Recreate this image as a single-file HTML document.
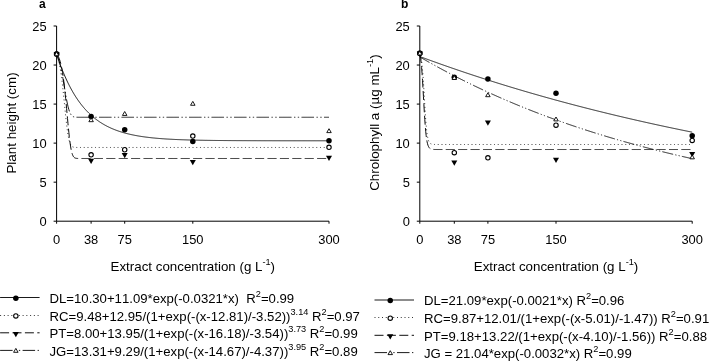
<!DOCTYPE html>
<html><head><meta charset="utf-8"><title>fig</title>
<style>
html,body{margin:0;padding:0;background:#fff;}
svg{display:block;will-change:transform;}
text{font-family:"Liberation Sans",sans-serif;fill:#000;font-kerning:none;}
</style></head><body>
<svg width="709" height="361" viewBox="0 0 709 361">
<rect width="709" height="361" fill="#fff"/>
<path d="M56.60 54.19 L57.05 55.57 L57.51 56.92 L57.96 58.26 L58.42 59.57 L58.87 60.86 L59.32 62.14 L59.78 63.39 L60.23 64.62 L60.69 65.83 L61.14 67.03 L61.59 68.20 L62.05 69.36 L62.50 70.49 L62.96 71.61 L63.41 72.71 L63.86 73.80 L64.32 74.86 L64.77 75.91 L65.23 76.95 L65.68 77.96 L66.13 78.96 L66.59 79.95 L67.04 80.92 L67.50 81.87 L67.95 82.81 L68.40 83.73 L68.86 84.64 L69.31 85.53 L69.77 86.41 L70.22 87.28 L70.67 88.13 L71.13 88.97 L71.58 89.79 L72.04 90.60 L72.49 91.40 L72.94 92.19 L73.40 92.96 L73.85 93.72 L74.31 94.47 L74.76 95.21 L75.21 95.94 L75.67 96.65 L76.12 97.35 L76.58 98.04 L77.03 98.72 L77.48 99.39 L77.94 100.05 L78.39 100.70 L78.85 101.34 L79.30 101.97 L79.75 102.58 L80.21 103.19 L80.66 103.79 L81.12 104.38 L81.57 104.96 L82.02 105.53 L82.48 106.09 L82.93 106.64 L83.39 107.19 L83.84 107.72 L84.29 108.25 L84.75 108.77 L85.20 109.28 L85.66 109.78 L86.11 110.27 L86.56 110.76 L87.02 111.23 L87.47 111.71 L87.93 112.17 L88.38 112.62 L88.83 113.07 L89.29 113.51 L89.74 113.95 L90.20 114.37 L90.65 114.79 L91.10 115.21 L91.56 115.62 L92.01 116.02 L92.47 116.41 L92.92 116.80 L93.37 117.18 L93.83 117.56 L94.28 117.93 L94.74 118.29 L95.19 118.65 L95.64 119.00 L96.10 119.35 L96.55 119.69 L97.01 120.02 L97.46 120.35 L97.91 120.68 L98.37 121.00 L98.82 121.31 L99.28 121.62 L99.73 121.93 L100.18 122.23 L100.64 122.52 L101.09 122.81 L101.55 123.10 L102.00 123.38 L102.45 123.66 L102.91 123.93 L103.36 124.20 L103.82 124.46 L104.27 124.72 L104.72 124.98 L105.18 125.23 L105.63 125.48 L106.09 125.72 L106.54 125.96 L106.99 126.20 L107.45 126.43 L107.90 126.66 L108.36 126.88 L108.81 127.10 L109.26 127.32 L109.72 127.54 L110.17 127.75 L110.63 127.95 L111.08 128.16 L111.53 128.36 L111.99 128.56 L112.44 128.75 L112.90 128.94 L113.35 129.13 L113.80 129.32 L114.26 129.50 L114.71 129.68 L115.17 129.86 L115.62 130.03 L116.07 130.20 L116.53 130.37 L116.98 130.54 L117.44 130.70 L117.89 130.86 L118.34 131.02 L118.80 131.17 L119.25 131.32 L119.71 131.48 L120.16 131.62 L120.61 131.77 L121.07 131.91 L121.52 132.05 L121.98 132.19 L122.43 132.33 L122.88 132.46 L123.34 132.60 L123.79 132.73 L124.25 132.85 L124.70 132.98 L125.15 133.11 L125.61 133.23 L126.06 133.35 L126.52 133.47 L126.97 133.58 L127.42 133.70 L127.88 133.81 L128.33 133.92 L128.79 134.03 L129.24 134.14 L129.69 134.24 L130.15 134.35 L130.60 134.45 L131.06 134.55 L131.51 134.65 L131.96 134.75 L132.42 134.84 L132.87 134.94 L133.33 135.03 L133.78 135.12 L134.23 135.21 L134.69 135.30 L135.14 135.39 L135.60 135.47 L136.05 135.56 L136.50 135.64 L136.96 135.72 L137.41 135.80 L137.87 135.88 L138.32 135.96 L138.77 136.04 L139.23 136.11 L139.68 136.19 L140.14 136.26 L140.59 136.33 L141.04 136.40 L141.50 136.47 L141.95 136.54 L142.41 136.61 L142.86 136.67 L143.31 136.74 L143.77 136.80 L144.22 136.87 L144.68 136.93 L145.13 136.99 L145.58 137.05 L146.04 137.11 L146.49 137.17 L146.95 137.23 L147.40 137.28 L147.85 137.34 L148.31 137.39 L148.76 137.45 L149.22 137.50 L149.67 137.55 L150.12 137.60 L150.58 137.65 L151.03 137.70 L151.49 137.75 L151.94 137.80 L152.39 137.85 L152.85 137.90 L153.30 137.94 L153.76 137.99 L154.21 138.03 L154.66 138.07 L155.12 138.12 L155.57 138.16 L156.03 138.20 L156.48 138.24 L156.93 138.28 L157.39 138.32 L157.84 138.36 L158.30 138.40 L158.75 138.44 L159.20 138.48 L159.66 138.51 L160.11 138.55 L160.57 138.58 L161.02 138.62 L161.47 138.65 L161.93 138.69 L162.38 138.72 L162.84 138.75 L163.29 138.78 L163.74 138.82 L164.20 138.85 L164.65 138.88 L165.11 138.91 L165.56 138.94 L166.01 138.97 L166.47 139.00 L166.92 139.03 L167.38 139.05 L167.83 139.08 L168.28 139.11 L168.74 139.13 L169.19 139.16 L169.65 139.19 L170.10 139.21 L170.55 139.24 L171.01 139.26 L171.46 139.28 L171.92 139.31 L172.37 139.33 L172.82 139.36 L173.28 139.38 L173.73 139.40 L174.19 139.42 L174.64 139.44 L175.09 139.46 L175.55 139.49 L176.00 139.51 L176.46 139.53 L176.91 139.55 L177.36 139.57 L177.82 139.59 L178.27 139.60 L178.73 139.62 L179.18 139.64 L179.63 139.66 L180.09 139.68 L180.54 139.69 L181.00 139.71 L181.45 139.73 L181.90 139.75 L182.36 139.76 L182.81 139.78 L183.27 139.79 L183.72 139.81 L184.17 139.83 L184.63 139.84 L185.08 139.86 L185.54 139.87 L185.99 139.88 L186.44 139.90 L186.90 139.91 L187.35 139.93 L187.81 139.94 L188.26 139.95 L188.71 139.97 L189.17 139.98 L189.62 139.99 L190.08 140.00 L190.53 140.02 L190.98 140.03 L191.44 140.04 L191.89 140.05 L192.35 140.06 L192.80 140.08 L193.25 140.09 L193.71 140.10 L194.16 140.11 L194.62 140.12 L195.07 140.13 L195.52 140.14 L195.98 140.15 L196.43 140.16 L196.89 140.17 L197.34 140.18 L197.79 140.19 L198.25 140.20 L198.70 140.21 L199.16 140.22 L199.61 140.23 L200.06 140.23 L200.52 140.24 L200.97 140.25 L201.43 140.26 L201.88 140.27 L202.33 140.28 L202.79 140.28 L203.24 140.29 L203.70 140.30 L204.15 140.31 L204.60 140.32 L205.06 140.32 L205.51 140.33 L205.97 140.34 L206.42 140.34 L206.87 140.35 L207.33 140.36 L207.78 140.36 L208.24 140.37 L208.69 140.38 L209.14 140.38 L209.60 140.39 L210.05 140.40 L210.51 140.40 L210.96 140.41 L211.41 140.41 L211.87 140.42 L212.32 140.43 L212.78 140.43 L213.23 140.44 L213.68 140.44 L214.14 140.45 L214.59 140.45 L215.05 140.46 L215.50 140.46 L215.95 140.47 L216.41 140.47 L216.86 140.48 L217.32 140.48 L217.77 140.49 L218.22 140.49 L218.68 140.50 L219.13 140.50 L219.59 140.51 L220.04 140.51 L220.49 140.51 L220.95 140.52 L221.40 140.52 L221.86 140.53 L222.31 140.53 L222.76 140.53 L223.22 140.54 L223.67 140.54 L224.13 140.55 L224.58 140.55 L225.03 140.55 L225.49 140.56 L225.94 140.56 L226.40 140.56 L226.85 140.57 L227.30 140.57 L227.76 140.57 L228.21 140.58 L228.67 140.58 L229.12 140.58 L229.57 140.59 L230.03 140.59 L230.48 140.59 L230.94 140.60 L231.39 140.60 L231.84 140.60 L232.30 140.60 L232.75 140.61 L233.21 140.61 L233.66 140.61 L234.11 140.61 L234.57 140.62 L235.02 140.62 L235.48 140.62 L235.93 140.62 L236.38 140.63 L236.84 140.63 L237.29 140.63 L237.75 140.63 L238.20 140.64 L238.65 140.64 L239.11 140.64 L239.56 140.64 L240.02 140.65 L240.47 140.65 L240.92 140.65 L241.38 140.65 L241.83 140.65 L242.29 140.66 L242.74 140.66 L243.19 140.66 L243.65 140.66 L244.10 140.66 L244.56 140.66 L245.01 140.67 L245.46 140.67 L245.92 140.67 L246.37 140.67 L246.83 140.67 L247.28 140.68 L247.73 140.68 L248.19 140.68 L248.64 140.68 L249.10 140.68 L249.55 140.68 L250.00 140.68 L250.46 140.69 L250.91 140.69 L251.37 140.69 L251.82 140.69 L252.27 140.69 L252.73 140.69 L253.18 140.69 L253.64 140.70 L254.09 140.70 L254.54 140.70 L255.00 140.70 L255.45 140.70 L255.91 140.70 L256.36 140.70 L256.81 140.70 L257.27 140.71 L257.72 140.71 L258.18 140.71 L258.63 140.71 L259.08 140.71 L259.54 140.71 L259.99 140.71 L260.45 140.71 L260.90 140.71 L261.35 140.72 L261.81 140.72 L262.26 140.72 L262.72 140.72 L263.17 140.72 L263.62 140.72 L264.08 140.72 L264.53 140.72 L264.99 140.72 L265.44 140.72 L265.89 140.72 L266.35 140.73 L266.80 140.73 L267.26 140.73 L267.71 140.73 L268.16 140.73 L268.62 140.73 L269.07 140.73 L269.53 140.73 L269.98 140.73 L270.43 140.73 L270.89 140.73 L271.34 140.73 L271.80 140.73 L272.25 140.74 L272.70 140.74 L273.16 140.74 L273.61 140.74 L274.07 140.74 L274.52 140.74 L274.97 140.74 L275.43 140.74 L275.88 140.74 L276.34 140.74 L276.79 140.74 L277.24 140.74 L277.70 140.74 L278.15 140.74 L278.61 140.74 L279.06 140.74 L279.51 140.74 L279.97 140.75 L280.42 140.75 L280.88 140.75 L281.33 140.75 L281.78 140.75 L282.24 140.75 L282.69 140.75 L283.15 140.75 L283.60 140.75 L284.05 140.75 L284.51 140.75 L284.96 140.75 L285.42 140.75 L285.87 140.75 L286.32 140.75 L286.78 140.75 L287.23 140.75 L287.69 140.75 L288.14 140.75 L288.59 140.75 L289.05 140.75 L289.50 140.75 L289.96 140.75 L290.41 140.76 L290.86 140.76 L291.32 140.76 L291.77 140.76 L292.23 140.76 L292.68 140.76 L293.13 140.76 L293.59 140.76 L294.04 140.76 L294.50 140.76 L294.95 140.76 L295.40 140.76 L295.86 140.76 L296.31 140.76 L296.77 140.76 L297.22 140.76 L297.67 140.76 L298.13 140.76 L298.58 140.76 L299.04 140.76 L299.49 140.76 L299.94 140.76 L300.40 140.76 L300.85 140.76 L301.31 140.76 L301.76 140.76 L302.21 140.76 L302.67 140.76 L303.12 140.76 L303.58 140.76 L304.03 140.76 L304.48 140.76 L304.94 140.76 L305.39 140.76 L305.85 140.76 L306.30 140.76 L306.75 140.77 L307.21 140.77 L307.66 140.77 L308.12 140.77 L308.57 140.77 L309.02 140.77 L309.48 140.77 L309.93 140.77 L310.39 140.77 L310.84 140.77 L311.29 140.77 L311.75 140.77 L312.20 140.77 L312.66 140.77 L313.11 140.77 L313.56 140.77 L314.02 140.77 L314.47 140.77 L314.93 140.77 L315.38 140.77 L315.83 140.77 L316.29 140.77 L316.74 140.77 L317.20 140.77 L317.65 140.77 L318.10 140.77 L318.56 140.77 L319.01 140.77 L319.47 140.77 L319.92 140.77 L320.37 140.77 L320.83 140.77 L321.28 140.77 L321.74 140.77 L322.19 140.77 L322.64 140.77 L323.10 140.77 L323.55 140.77 L324.01 140.77 L324.46 140.77 L324.91 140.77 L325.37 140.77 L325.82 140.77 L326.28 140.77 L326.73 140.77 L327.18 140.77 L327.64 140.77 L328.09 140.77 L328.55 140.77 L329.00 140.77" fill="none" stroke="#000" stroke-width="0.9"/>
<path d="M56.60 54.27 L57.05 55.41 L57.51 56.69 L57.96 58.15 L58.42 59.78 L58.87 61.62 L59.32 63.67 L59.78 65.96 L60.23 68.50 L60.69 71.30 L61.14 74.36 L61.59 77.69 L62.05 81.29 L62.50 85.14 L62.96 89.22 L63.41 93.50 L63.86 97.93 L64.32 102.46 L64.77 107.03 L65.23 111.57 L65.68 116.00 L66.13 120.26 L66.59 124.27 L67.04 127.99 L67.50 131.36 L67.95 134.35 L68.40 136.95 L68.86 139.17 L69.31 141.03 L69.77 142.55 L70.22 143.76 L70.67 144.72 L71.13 145.46 L71.58 146.02 L72.04 146.43 L72.49 146.74 L72.94 146.96 L73.40 147.12 L73.85 147.23 L74.31 147.31 L74.76 147.37 L75.21 147.40 L75.67 147.43 L76.12 147.45 L76.58 147.46 L77.03 147.47 L77.48 147.47 L77.94 147.47 L78.39 147.48 L78.85 147.48 L79.30 147.48 L79.75 147.48 L80.21 147.48 L80.66 147.48 L81.12 147.48 L81.57 147.48 L82.02 147.48 L82.48 147.48 L82.93 147.48 L83.39 147.48 L83.84 147.48 L84.29 147.48 L84.75 147.48 L85.20 147.48 L85.66 147.48 L86.11 147.48 L86.56 147.48 L87.02 147.48 L87.47 147.48 L87.93 147.48 L88.38 147.48 L88.83 147.48 L89.29 147.48 L89.74 147.48 L90.20 147.48 L90.65 147.48 L91.10 147.48 L91.56 147.48 L92.01 147.48 L92.47 147.48 L92.92 147.48 L93.37 147.48 L93.83 147.48 L94.28 147.48 L94.74 147.48 L95.19 147.48 L95.64 147.48 L96.10 147.48 L96.55 147.48 L97.01 147.48 L97.46 147.48 L97.91 147.48 L98.37 147.48 L98.82 147.48 L99.28 147.48 L99.73 147.48 L100.18 147.48 L100.64 147.48 L101.09 147.48 L101.55 147.48 L102.00 147.48 L102.45 147.48 L102.91 147.48 L103.36 147.48 L103.82 147.48 L104.27 147.48 L104.72 147.48 L105.18 147.48 L105.63 147.48 L106.09 147.48 L106.54 147.48 L106.99 147.48 L107.45 147.48 L107.90 147.48 L108.36 147.48 L108.81 147.48 L109.26 147.48 L109.72 147.48 L110.17 147.48 L110.63 147.48 L111.08 147.48 L111.53 147.48 L111.99 147.48 L112.44 147.48 L112.90 147.48 L113.35 147.48 L113.80 147.48 L114.26 147.48 L114.71 147.48 L115.17 147.48 L115.62 147.48 L116.07 147.48 L116.53 147.48 L116.98 147.48 L117.44 147.48 L117.89 147.48 L118.34 147.48 L118.80 147.48 L119.25 147.48 L119.71 147.48 L120.16 147.48 L120.61 147.48 L121.07 147.48 L121.52 147.48 L121.98 147.48 L122.43 147.48 L122.88 147.48 L123.34 147.48 L123.79 147.48 L124.25 147.48 L124.70 147.48 L125.15 147.48 L125.61 147.48 L126.06 147.48 L126.52 147.48 L126.97 147.48 L127.42 147.48 L127.88 147.48 L128.33 147.48 L128.79 147.48 L129.24 147.48 L129.69 147.48 L130.15 147.48 L130.60 147.48 L131.06 147.48 L131.51 147.48 L131.96 147.48 L132.42 147.48 L132.87 147.48 L133.33 147.48 L133.78 147.48 L134.23 147.48 L134.69 147.48 L135.14 147.48 L135.60 147.48 L136.05 147.48 L136.50 147.48 L136.96 147.48 L137.41 147.48 L137.87 147.48 L138.32 147.48 L138.77 147.48 L139.23 147.48 L139.68 147.48 L140.14 147.48 L140.59 147.48 L141.04 147.48 L141.50 147.48 L141.95 147.48 L142.41 147.48 L142.86 147.48 L143.31 147.48 L143.77 147.48 L144.22 147.48 L144.68 147.48 L145.13 147.48 L145.58 147.48 L146.04 147.48 L146.49 147.48 L146.95 147.48 L147.40 147.48 L147.85 147.48 L148.31 147.48 L148.76 147.48 L149.22 147.48 L149.67 147.48 L150.12 147.48 L150.58 147.48 L151.03 147.48 L151.49 147.48 L151.94 147.48 L152.39 147.48 L152.85 147.48 L153.30 147.48 L153.76 147.48 L154.21 147.48 L154.66 147.48 L155.12 147.48 L155.57 147.48 L156.03 147.48 L156.48 147.48 L156.93 147.48 L157.39 147.48 L157.84 147.48 L158.30 147.48 L158.75 147.48 L159.20 147.48 L159.66 147.48 L160.11 147.48 L160.57 147.48 L161.02 147.48 L161.47 147.48 L161.93 147.48 L162.38 147.48 L162.84 147.48 L163.29 147.48 L163.74 147.48 L164.20 147.48 L164.65 147.48 L165.11 147.48 L165.56 147.48 L166.01 147.48 L166.47 147.48 L166.92 147.48 L167.38 147.48 L167.83 147.48 L168.28 147.48 L168.74 147.48 L169.19 147.48 L169.65 147.48 L170.10 147.48 L170.55 147.48 L171.01 147.48 L171.46 147.48 L171.92 147.48 L172.37 147.48 L172.82 147.48 L173.28 147.48 L173.73 147.48 L174.19 147.48 L174.64 147.48 L175.09 147.48 L175.55 147.48 L176.00 147.48 L176.46 147.48 L176.91 147.48 L177.36 147.48 L177.82 147.48 L178.27 147.48 L178.73 147.48 L179.18 147.48 L179.63 147.48 L180.09 147.48 L180.54 147.48 L181.00 147.48 L181.45 147.48 L181.90 147.48 L182.36 147.48 L182.81 147.48 L183.27 147.48 L183.72 147.48 L184.17 147.48 L184.63 147.48 L185.08 147.48 L185.54 147.48 L185.99 147.48 L186.44 147.48 L186.90 147.48 L187.35 147.48 L187.81 147.48 L188.26 147.48 L188.71 147.48 L189.17 147.48 L189.62 147.48 L190.08 147.48 L190.53 147.48 L190.98 147.48 L191.44 147.48 L191.89 147.48 L192.35 147.48 L192.80 147.48 L193.25 147.48 L193.71 147.48 L194.16 147.48 L194.62 147.48 L195.07 147.48 L195.52 147.48 L195.98 147.48 L196.43 147.48 L196.89 147.48 L197.34 147.48 L197.79 147.48 L198.25 147.48 L198.70 147.48 L199.16 147.48 L199.61 147.48 L200.06 147.48 L200.52 147.48 L200.97 147.48 L201.43 147.48 L201.88 147.48 L202.33 147.48 L202.79 147.48 L203.24 147.48 L203.70 147.48 L204.15 147.48 L204.60 147.48 L205.06 147.48 L205.51 147.48 L205.97 147.48 L206.42 147.48 L206.87 147.48 L207.33 147.48 L207.78 147.48 L208.24 147.48 L208.69 147.48 L209.14 147.48 L209.60 147.48 L210.05 147.48 L210.51 147.48 L210.96 147.48 L211.41 147.48 L211.87 147.48 L212.32 147.48 L212.78 147.48 L213.23 147.48 L213.68 147.48 L214.14 147.48 L214.59 147.48 L215.05 147.48 L215.50 147.48 L215.95 147.48 L216.41 147.48 L216.86 147.48 L217.32 147.48 L217.77 147.48 L218.22 147.48 L218.68 147.48 L219.13 147.48 L219.59 147.48 L220.04 147.48 L220.49 147.48 L220.95 147.48 L221.40 147.48 L221.86 147.48 L222.31 147.48 L222.76 147.48 L223.22 147.48 L223.67 147.48 L224.13 147.48 L224.58 147.48 L225.03 147.48 L225.49 147.48 L225.94 147.48 L226.40 147.48 L226.85 147.48 L227.30 147.48 L227.76 147.48 L228.21 147.48 L228.67 147.48 L229.12 147.48 L229.57 147.48 L230.03 147.48 L230.48 147.48 L230.94 147.48 L231.39 147.48 L231.84 147.48 L232.30 147.48 L232.75 147.48 L233.21 147.48 L233.66 147.48 L234.11 147.48 L234.57 147.48 L235.02 147.48 L235.48 147.48 L235.93 147.48 L236.38 147.48 L236.84 147.48 L237.29 147.48 L237.75 147.48 L238.20 147.48 L238.65 147.48 L239.11 147.48 L239.56 147.48 L240.02 147.48 L240.47 147.48 L240.92 147.48 L241.38 147.48 L241.83 147.48 L242.29 147.48 L242.74 147.48 L243.19 147.48 L243.65 147.48 L244.10 147.48 L244.56 147.48 L245.01 147.48 L245.46 147.48 L245.92 147.48 L246.37 147.48 L246.83 147.48 L247.28 147.48 L247.73 147.48 L248.19 147.48 L248.64 147.48 L249.10 147.48 L249.55 147.48 L250.00 147.48 L250.46 147.48 L250.91 147.48 L251.37 147.48 L251.82 147.48 L252.27 147.48 L252.73 147.48 L253.18 147.48 L253.64 147.48 L254.09 147.48 L254.54 147.48 L255.00 147.48 L255.45 147.48 L255.91 147.48 L256.36 147.48 L256.81 147.48 L257.27 147.48 L257.72 147.48 L258.18 147.48 L258.63 147.48 L259.08 147.48 L259.54 147.48 L259.99 147.48 L260.45 147.48 L260.90 147.48 L261.35 147.48 L261.81 147.48 L262.26 147.48 L262.72 147.48 L263.17 147.48 L263.62 147.48 L264.08 147.48 L264.53 147.48 L264.99 147.48 L265.44 147.48 L265.89 147.48 L266.35 147.48 L266.80 147.48 L267.26 147.48 L267.71 147.48 L268.16 147.48 L268.62 147.48 L269.07 147.48 L269.53 147.48 L269.98 147.48 L270.43 147.48 L270.89 147.48 L271.34 147.48 L271.80 147.48 L272.25 147.48 L272.70 147.48 L273.16 147.48 L273.61 147.48 L274.07 147.48 L274.52 147.48 L274.97 147.48 L275.43 147.48 L275.88 147.48 L276.34 147.48 L276.79 147.48 L277.24 147.48 L277.70 147.48 L278.15 147.48 L278.61 147.48 L279.06 147.48 L279.51 147.48 L279.97 147.48 L280.42 147.48 L280.88 147.48 L281.33 147.48 L281.78 147.48 L282.24 147.48 L282.69 147.48 L283.15 147.48 L283.60 147.48 L284.05 147.48 L284.51 147.48 L284.96 147.48 L285.42 147.48 L285.87 147.48 L286.32 147.48 L286.78 147.48 L287.23 147.48 L287.69 147.48 L288.14 147.48 L288.59 147.48 L289.05 147.48 L289.50 147.48 L289.96 147.48 L290.41 147.48 L290.86 147.48 L291.32 147.48 L291.77 147.48 L292.23 147.48 L292.68 147.48 L293.13 147.48 L293.59 147.48 L294.04 147.48 L294.50 147.48 L294.95 147.48 L295.40 147.48 L295.86 147.48 L296.31 147.48 L296.77 147.48 L297.22 147.48 L297.67 147.48 L298.13 147.48 L298.58 147.48 L299.04 147.48 L299.49 147.48 L299.94 147.48 L300.40 147.48 L300.85 147.48 L301.31 147.48 L301.76 147.48 L302.21 147.48 L302.67 147.48 L303.12 147.48 L303.58 147.48 L304.03 147.48 L304.48 147.48 L304.94 147.48 L305.39 147.48 L305.85 147.48 L306.30 147.48 L306.75 147.48 L307.21 147.48 L307.66 147.48 L308.12 147.48 L308.57 147.48 L309.02 147.48 L309.48 147.48 L309.93 147.48 L310.39 147.48 L310.84 147.48 L311.29 147.48 L311.75 147.48 L312.20 147.48 L312.66 147.48 L313.11 147.48 L313.56 147.48 L314.02 147.48 L314.47 147.48 L314.93 147.48 L315.38 147.48 L315.83 147.48 L316.29 147.48 L316.74 147.48 L317.20 147.48 L317.65 147.48 L318.10 147.48 L318.56 147.48 L319.01 147.48 L319.47 147.48 L319.92 147.48 L320.37 147.48 L320.83 147.48 L321.28 147.48 L321.74 147.48 L322.19 147.48 L322.64 147.48 L323.10 147.48 L323.55 147.48 L324.01 147.48 L324.46 147.48 L324.91 147.48 L325.37 147.48 L325.82 147.48 L326.28 147.48 L326.73 147.48 L327.18 147.48 L327.64 147.48 L328.09 147.48 L328.55 147.48 L329.00 147.48" fill="none" stroke="#000" stroke-width="0.8" stroke-dasharray="1 2.75" stroke-dashoffset="-0.9"/>
<path d="M56.60 53.67 L57.05 54.27 L57.51 54.97 L57.96 55.76 L58.42 56.66 L58.87 57.68 L59.32 58.84 L59.78 60.16 L60.23 61.65 L60.69 63.34 L61.14 65.23 L61.59 67.35 L62.05 69.72 L62.50 72.35 L62.96 75.25 L63.41 78.45 L63.86 81.94 L64.32 85.73 L64.77 89.80 L65.23 94.13 L65.68 98.71 L66.13 103.48 L66.59 108.39 L67.04 113.38 L67.50 118.37 L67.95 123.28 L68.40 128.03 L68.86 132.54 L69.31 136.74 L69.77 140.56 L70.22 143.97 L70.67 146.94 L71.13 149.47 L71.58 151.58 L72.04 153.29 L72.49 154.65 L72.94 155.70 L73.40 156.50 L73.85 157.09 L74.31 157.53 L74.76 157.83 L75.21 158.05 L75.67 158.20 L76.12 158.30 L76.58 158.36 L77.03 158.41 L77.48 158.44 L77.94 158.45 L78.39 158.47 L78.85 158.47 L79.30 158.48 L79.75 158.48 L80.21 158.48 L80.66 158.48 L81.12 158.48 L81.57 158.49 L82.02 158.49 L82.48 158.49 L82.93 158.49 L83.39 158.49 L83.84 158.49 L84.29 158.49 L84.75 158.49 L85.20 158.49 L85.66 158.49 L86.11 158.49 L86.56 158.49 L87.02 158.49 L87.47 158.49 L87.93 158.49 L88.38 158.49 L88.83 158.49 L89.29 158.49 L89.74 158.49 L90.20 158.49 L90.65 158.49 L91.10 158.49 L91.56 158.49 L92.01 158.49 L92.47 158.49 L92.92 158.49 L93.37 158.49 L93.83 158.49 L94.28 158.49 L94.74 158.49 L95.19 158.49 L95.64 158.49 L96.10 158.49 L96.55 158.49 L97.01 158.49 L97.46 158.49 L97.91 158.49 L98.37 158.49 L98.82 158.49 L99.28 158.49 L99.73 158.49 L100.18 158.49 L100.64 158.49 L101.09 158.49 L101.55 158.49 L102.00 158.49 L102.45 158.49 L102.91 158.49 L103.36 158.49 L103.82 158.49 L104.27 158.49 L104.72 158.49 L105.18 158.49 L105.63 158.49 L106.09 158.49 L106.54 158.49 L106.99 158.49 L107.45 158.49 L107.90 158.49 L108.36 158.49 L108.81 158.49 L109.26 158.49 L109.72 158.49 L110.17 158.49 L110.63 158.49 L111.08 158.49 L111.53 158.49 L111.99 158.49 L112.44 158.49 L112.90 158.49 L113.35 158.49 L113.80 158.49 L114.26 158.49 L114.71 158.49 L115.17 158.49 L115.62 158.49 L116.07 158.49 L116.53 158.49 L116.98 158.49 L117.44 158.49 L117.89 158.49 L118.34 158.49 L118.80 158.49 L119.25 158.49 L119.71 158.49 L120.16 158.49 L120.61 158.49 L121.07 158.49 L121.52 158.49 L121.98 158.49 L122.43 158.49 L122.88 158.49 L123.34 158.49 L123.79 158.49 L124.25 158.49 L124.70 158.49 L125.15 158.49 L125.61 158.49 L126.06 158.49 L126.52 158.49 L126.97 158.49 L127.42 158.49 L127.88 158.49 L128.33 158.49 L128.79 158.49 L129.24 158.49 L129.69 158.49 L130.15 158.49 L130.60 158.49 L131.06 158.49 L131.51 158.49 L131.96 158.49 L132.42 158.49 L132.87 158.49 L133.33 158.49 L133.78 158.49 L134.23 158.49 L134.69 158.49 L135.14 158.49 L135.60 158.49 L136.05 158.49 L136.50 158.49 L136.96 158.49 L137.41 158.49 L137.87 158.49 L138.32 158.49 L138.77 158.49 L139.23 158.49 L139.68 158.49 L140.14 158.49 L140.59 158.49 L141.04 158.49 L141.50 158.49 L141.95 158.49 L142.41 158.49 L142.86 158.49 L143.31 158.49 L143.77 158.49 L144.22 158.49 L144.68 158.49 L145.13 158.49 L145.58 158.49 L146.04 158.49 L146.49 158.49 L146.95 158.49 L147.40 158.49 L147.85 158.49 L148.31 158.49 L148.76 158.49 L149.22 158.49 L149.67 158.49 L150.12 158.49 L150.58 158.49 L151.03 158.49 L151.49 158.49 L151.94 158.49 L152.39 158.49 L152.85 158.49 L153.30 158.49 L153.76 158.49 L154.21 158.49 L154.66 158.49 L155.12 158.49 L155.57 158.49 L156.03 158.49 L156.48 158.49 L156.93 158.49 L157.39 158.49 L157.84 158.49 L158.30 158.49 L158.75 158.49 L159.20 158.49 L159.66 158.49 L160.11 158.49 L160.57 158.49 L161.02 158.49 L161.47 158.49 L161.93 158.49 L162.38 158.49 L162.84 158.49 L163.29 158.49 L163.74 158.49 L164.20 158.49 L164.65 158.49 L165.11 158.49 L165.56 158.49 L166.01 158.49 L166.47 158.49 L166.92 158.49 L167.38 158.49 L167.83 158.49 L168.28 158.49 L168.74 158.49 L169.19 158.49 L169.65 158.49 L170.10 158.49 L170.55 158.49 L171.01 158.49 L171.46 158.49 L171.92 158.49 L172.37 158.49 L172.82 158.49 L173.28 158.49 L173.73 158.49 L174.19 158.49 L174.64 158.49 L175.09 158.49 L175.55 158.49 L176.00 158.49 L176.46 158.49 L176.91 158.49 L177.36 158.49 L177.82 158.49 L178.27 158.49 L178.73 158.49 L179.18 158.49 L179.63 158.49 L180.09 158.49 L180.54 158.49 L181.00 158.49 L181.45 158.49 L181.90 158.49 L182.36 158.49 L182.81 158.49 L183.27 158.49 L183.72 158.49 L184.17 158.49 L184.63 158.49 L185.08 158.49 L185.54 158.49 L185.99 158.49 L186.44 158.49 L186.90 158.49 L187.35 158.49 L187.81 158.49 L188.26 158.49 L188.71 158.49 L189.17 158.49 L189.62 158.49 L190.08 158.49 L190.53 158.49 L190.98 158.49 L191.44 158.49 L191.89 158.49 L192.35 158.49 L192.80 158.49 L193.25 158.49 L193.71 158.49 L194.16 158.49 L194.62 158.49 L195.07 158.49 L195.52 158.49 L195.98 158.49 L196.43 158.49 L196.89 158.49 L197.34 158.49 L197.79 158.49 L198.25 158.49 L198.70 158.49 L199.16 158.49 L199.61 158.49 L200.06 158.49 L200.52 158.49 L200.97 158.49 L201.43 158.49 L201.88 158.49 L202.33 158.49 L202.79 158.49 L203.24 158.49 L203.70 158.49 L204.15 158.49 L204.60 158.49 L205.06 158.49 L205.51 158.49 L205.97 158.49 L206.42 158.49 L206.87 158.49 L207.33 158.49 L207.78 158.49 L208.24 158.49 L208.69 158.49 L209.14 158.49 L209.60 158.49 L210.05 158.49 L210.51 158.49 L210.96 158.49 L211.41 158.49 L211.87 158.49 L212.32 158.49 L212.78 158.49 L213.23 158.49 L213.68 158.49 L214.14 158.49 L214.59 158.49 L215.05 158.49 L215.50 158.49 L215.95 158.49 L216.41 158.49 L216.86 158.49 L217.32 158.49 L217.77 158.49 L218.22 158.49 L218.68 158.49 L219.13 158.49 L219.59 158.49 L220.04 158.49 L220.49 158.49 L220.95 158.49 L221.40 158.49 L221.86 158.49 L222.31 158.49 L222.76 158.49 L223.22 158.49 L223.67 158.49 L224.13 158.49 L224.58 158.49 L225.03 158.49 L225.49 158.49 L225.94 158.49 L226.40 158.49 L226.85 158.49 L227.30 158.49 L227.76 158.49 L228.21 158.49 L228.67 158.49 L229.12 158.49 L229.57 158.49 L230.03 158.49 L230.48 158.49 L230.94 158.49 L231.39 158.49 L231.84 158.49 L232.30 158.49 L232.75 158.49 L233.21 158.49 L233.66 158.49 L234.11 158.49 L234.57 158.49 L235.02 158.49 L235.48 158.49 L235.93 158.49 L236.38 158.49 L236.84 158.49 L237.29 158.49 L237.75 158.49 L238.20 158.49 L238.65 158.49 L239.11 158.49 L239.56 158.49 L240.02 158.49 L240.47 158.49 L240.92 158.49 L241.38 158.49 L241.83 158.49 L242.29 158.49 L242.74 158.49 L243.19 158.49 L243.65 158.49 L244.10 158.49 L244.56 158.49 L245.01 158.49 L245.46 158.49 L245.92 158.49 L246.37 158.49 L246.83 158.49 L247.28 158.49 L247.73 158.49 L248.19 158.49 L248.64 158.49 L249.10 158.49 L249.55 158.49 L250.00 158.49 L250.46 158.49 L250.91 158.49 L251.37 158.49 L251.82 158.49 L252.27 158.49 L252.73 158.49 L253.18 158.49 L253.64 158.49 L254.09 158.49 L254.54 158.49 L255.00 158.49 L255.45 158.49 L255.91 158.49 L256.36 158.49 L256.81 158.49 L257.27 158.49 L257.72 158.49 L258.18 158.49 L258.63 158.49 L259.08 158.49 L259.54 158.49 L259.99 158.49 L260.45 158.49 L260.90 158.49 L261.35 158.49 L261.81 158.49 L262.26 158.49 L262.72 158.49 L263.17 158.49 L263.62 158.49 L264.08 158.49 L264.53 158.49 L264.99 158.49 L265.44 158.49 L265.89 158.49 L266.35 158.49 L266.80 158.49 L267.26 158.49 L267.71 158.49 L268.16 158.49 L268.62 158.49 L269.07 158.49 L269.53 158.49 L269.98 158.49 L270.43 158.49 L270.89 158.49 L271.34 158.49 L271.80 158.49 L272.25 158.49 L272.70 158.49 L273.16 158.49 L273.61 158.49 L274.07 158.49 L274.52 158.49 L274.97 158.49 L275.43 158.49 L275.88 158.49 L276.34 158.49 L276.79 158.49 L277.24 158.49 L277.70 158.49 L278.15 158.49 L278.61 158.49 L279.06 158.49 L279.51 158.49 L279.97 158.49 L280.42 158.49 L280.88 158.49 L281.33 158.49 L281.78 158.49 L282.24 158.49 L282.69 158.49 L283.15 158.49 L283.60 158.49 L284.05 158.49 L284.51 158.49 L284.96 158.49 L285.42 158.49 L285.87 158.49 L286.32 158.49 L286.78 158.49 L287.23 158.49 L287.69 158.49 L288.14 158.49 L288.59 158.49 L289.05 158.49 L289.50 158.49 L289.96 158.49 L290.41 158.49 L290.86 158.49 L291.32 158.49 L291.77 158.49 L292.23 158.49 L292.68 158.49 L293.13 158.49 L293.59 158.49 L294.04 158.49 L294.50 158.49 L294.95 158.49 L295.40 158.49 L295.86 158.49 L296.31 158.49 L296.77 158.49 L297.22 158.49 L297.67 158.49 L298.13 158.49 L298.58 158.49 L299.04 158.49 L299.49 158.49 L299.94 158.49 L300.40 158.49 L300.85 158.49 L301.31 158.49 L301.76 158.49 L302.21 158.49 L302.67 158.49 L303.12 158.49 L303.58 158.49 L304.03 158.49 L304.48 158.49 L304.94 158.49 L305.39 158.49 L305.85 158.49 L306.30 158.49 L306.75 158.49 L307.21 158.49 L307.66 158.49 L308.12 158.49 L308.57 158.49 L309.02 158.49 L309.48 158.49 L309.93 158.49 L310.39 158.49 L310.84 158.49 L311.29 158.49 L311.75 158.49 L312.20 158.49 L312.66 158.49 L313.11 158.49 L313.56 158.49 L314.02 158.49 L314.47 158.49 L314.93 158.49 L315.38 158.49 L315.83 158.49 L316.29 158.49 L316.74 158.49 L317.20 158.49 L317.65 158.49 L318.10 158.49 L318.56 158.49 L319.01 158.49 L319.47 158.49 L319.92 158.49 L320.37 158.49 L320.83 158.49 L321.28 158.49 L321.74 158.49 L322.19 158.49 L322.64 158.49 L323.10 158.49 L323.55 158.49 L324.01 158.49 L324.46 158.49 L324.91 158.49 L325.37 158.49 L325.82 158.49 L326.28 158.49 L326.73 158.49 L327.18 158.49 L327.64 158.49 L328.09 158.49 L328.55 158.49 L329.00 158.49" fill="none" stroke="#000" stroke-width="0.95" stroke-dasharray="9 3.4" stroke-dashoffset="-2"/>
<path d="M56.60 53.92 L57.05 54.93 L57.51 56.04 L57.96 57.25 L58.42 58.58 L58.87 60.02 L59.32 61.59 L59.78 63.28 L60.23 65.11 L60.69 67.06 L61.14 69.14 L61.59 71.35 L62.05 73.67 L62.50 76.11 L62.96 78.64 L63.41 81.25 L63.86 83.92 L64.32 86.62 L64.77 89.34 L65.23 92.03 L65.68 94.68 L66.13 97.24 L66.59 99.70 L67.04 102.03 L67.50 104.19 L67.95 106.18 L68.40 107.98 L68.86 109.59 L69.31 111.00 L69.77 112.21 L70.22 113.24 L70.67 114.11 L71.13 114.82 L71.58 115.39 L72.04 115.85 L72.49 116.21 L72.94 116.49 L73.40 116.70 L73.85 116.86 L74.31 116.98 L74.76 117.06 L75.21 117.13 L75.67 117.17 L76.12 117.20 L76.58 117.23 L77.03 117.24 L77.48 117.25 L77.94 117.26 L78.39 117.27 L78.85 117.27 L79.30 117.27 L79.75 117.27 L80.21 117.27 L80.66 117.27 L81.12 117.27 L81.57 117.27 L82.02 117.28 L82.48 117.28 L82.93 117.28 L83.39 117.28 L83.84 117.28 L84.29 117.28 L84.75 117.28 L85.20 117.28 L85.66 117.28 L86.11 117.28 L86.56 117.28 L87.02 117.28 L87.47 117.28 L87.93 117.28 L88.38 117.28 L88.83 117.28 L89.29 117.28 L89.74 117.28 L90.20 117.28 L90.65 117.28 L91.10 117.28 L91.56 117.28 L92.01 117.28 L92.47 117.28 L92.92 117.28 L93.37 117.28 L93.83 117.28 L94.28 117.28 L94.74 117.28 L95.19 117.28 L95.64 117.28 L96.10 117.28 L96.55 117.28 L97.01 117.28 L97.46 117.28 L97.91 117.28 L98.37 117.28 L98.82 117.28 L99.28 117.28 L99.73 117.28 L100.18 117.28 L100.64 117.28 L101.09 117.28 L101.55 117.28 L102.00 117.28 L102.45 117.28 L102.91 117.28 L103.36 117.28 L103.82 117.28 L104.27 117.28 L104.72 117.28 L105.18 117.28 L105.63 117.28 L106.09 117.28 L106.54 117.28 L106.99 117.28 L107.45 117.28 L107.90 117.28 L108.36 117.28 L108.81 117.28 L109.26 117.28 L109.72 117.28 L110.17 117.28 L110.63 117.28 L111.08 117.28 L111.53 117.28 L111.99 117.28 L112.44 117.28 L112.90 117.28 L113.35 117.28 L113.80 117.28 L114.26 117.28 L114.71 117.28 L115.17 117.28 L115.62 117.28 L116.07 117.28 L116.53 117.28 L116.98 117.28 L117.44 117.28 L117.89 117.28 L118.34 117.28 L118.80 117.28 L119.25 117.28 L119.71 117.28 L120.16 117.28 L120.61 117.28 L121.07 117.28 L121.52 117.28 L121.98 117.28 L122.43 117.28 L122.88 117.28 L123.34 117.28 L123.79 117.28 L124.25 117.28 L124.70 117.28 L125.15 117.28 L125.61 117.28 L126.06 117.28 L126.52 117.28 L126.97 117.28 L127.42 117.28 L127.88 117.28 L128.33 117.28 L128.79 117.28 L129.24 117.28 L129.69 117.28 L130.15 117.28 L130.60 117.28 L131.06 117.28 L131.51 117.28 L131.96 117.28 L132.42 117.28 L132.87 117.28 L133.33 117.28 L133.78 117.28 L134.23 117.28 L134.69 117.28 L135.14 117.28 L135.60 117.28 L136.05 117.28 L136.50 117.28 L136.96 117.28 L137.41 117.28 L137.87 117.28 L138.32 117.28 L138.77 117.28 L139.23 117.28 L139.68 117.28 L140.14 117.28 L140.59 117.28 L141.04 117.28 L141.50 117.28 L141.95 117.28 L142.41 117.28 L142.86 117.28 L143.31 117.28 L143.77 117.28 L144.22 117.28 L144.68 117.28 L145.13 117.28 L145.58 117.28 L146.04 117.28 L146.49 117.28 L146.95 117.28 L147.40 117.28 L147.85 117.28 L148.31 117.28 L148.76 117.28 L149.22 117.28 L149.67 117.28 L150.12 117.28 L150.58 117.28 L151.03 117.28 L151.49 117.28 L151.94 117.28 L152.39 117.28 L152.85 117.28 L153.30 117.28 L153.76 117.28 L154.21 117.28 L154.66 117.28 L155.12 117.28 L155.57 117.28 L156.03 117.28 L156.48 117.28 L156.93 117.28 L157.39 117.28 L157.84 117.28 L158.30 117.28 L158.75 117.28 L159.20 117.28 L159.66 117.28 L160.11 117.28 L160.57 117.28 L161.02 117.28 L161.47 117.28 L161.93 117.28 L162.38 117.28 L162.84 117.28 L163.29 117.28 L163.74 117.28 L164.20 117.28 L164.65 117.28 L165.11 117.28 L165.56 117.28 L166.01 117.28 L166.47 117.28 L166.92 117.28 L167.38 117.28 L167.83 117.28 L168.28 117.28 L168.74 117.28 L169.19 117.28 L169.65 117.28 L170.10 117.28 L170.55 117.28 L171.01 117.28 L171.46 117.28 L171.92 117.28 L172.37 117.28 L172.82 117.28 L173.28 117.28 L173.73 117.28 L174.19 117.28 L174.64 117.28 L175.09 117.28 L175.55 117.28 L176.00 117.28 L176.46 117.28 L176.91 117.28 L177.36 117.28 L177.82 117.28 L178.27 117.28 L178.73 117.28 L179.18 117.28 L179.63 117.28 L180.09 117.28 L180.54 117.28 L181.00 117.28 L181.45 117.28 L181.90 117.28 L182.36 117.28 L182.81 117.28 L183.27 117.28 L183.72 117.28 L184.17 117.28 L184.63 117.28 L185.08 117.28 L185.54 117.28 L185.99 117.28 L186.44 117.28 L186.90 117.28 L187.35 117.28 L187.81 117.28 L188.26 117.28 L188.71 117.28 L189.17 117.28 L189.62 117.28 L190.08 117.28 L190.53 117.28 L190.98 117.28 L191.44 117.28 L191.89 117.28 L192.35 117.28 L192.80 117.28 L193.25 117.28 L193.71 117.28 L194.16 117.28 L194.62 117.28 L195.07 117.28 L195.52 117.28 L195.98 117.28 L196.43 117.28 L196.89 117.28 L197.34 117.28 L197.79 117.28 L198.25 117.28 L198.70 117.28 L199.16 117.28 L199.61 117.28 L200.06 117.28 L200.52 117.28 L200.97 117.28 L201.43 117.28 L201.88 117.28 L202.33 117.28 L202.79 117.28 L203.24 117.28 L203.70 117.28 L204.15 117.28 L204.60 117.28 L205.06 117.28 L205.51 117.28 L205.97 117.28 L206.42 117.28 L206.87 117.28 L207.33 117.28 L207.78 117.28 L208.24 117.28 L208.69 117.28 L209.14 117.28 L209.60 117.28 L210.05 117.28 L210.51 117.28 L210.96 117.28 L211.41 117.28 L211.87 117.28 L212.32 117.28 L212.78 117.28 L213.23 117.28 L213.68 117.28 L214.14 117.28 L214.59 117.28 L215.05 117.28 L215.50 117.28 L215.95 117.28 L216.41 117.28 L216.86 117.28 L217.32 117.28 L217.77 117.28 L218.22 117.28 L218.68 117.28 L219.13 117.28 L219.59 117.28 L220.04 117.28 L220.49 117.28 L220.95 117.28 L221.40 117.28 L221.86 117.28 L222.31 117.28 L222.76 117.28 L223.22 117.28 L223.67 117.28 L224.13 117.28 L224.58 117.28 L225.03 117.28 L225.49 117.28 L225.94 117.28 L226.40 117.28 L226.85 117.28 L227.30 117.28 L227.76 117.28 L228.21 117.28 L228.67 117.28 L229.12 117.28 L229.57 117.28 L230.03 117.28 L230.48 117.28 L230.94 117.28 L231.39 117.28 L231.84 117.28 L232.30 117.28 L232.75 117.28 L233.21 117.28 L233.66 117.28 L234.11 117.28 L234.57 117.28 L235.02 117.28 L235.48 117.28 L235.93 117.28 L236.38 117.28 L236.84 117.28 L237.29 117.28 L237.75 117.28 L238.20 117.28 L238.65 117.28 L239.11 117.28 L239.56 117.28 L240.02 117.28 L240.47 117.28 L240.92 117.28 L241.38 117.28 L241.83 117.28 L242.29 117.28 L242.74 117.28 L243.19 117.28 L243.65 117.28 L244.10 117.28 L244.56 117.28 L245.01 117.28 L245.46 117.28 L245.92 117.28 L246.37 117.28 L246.83 117.28 L247.28 117.28 L247.73 117.28 L248.19 117.28 L248.64 117.28 L249.10 117.28 L249.55 117.28 L250.00 117.28 L250.46 117.28 L250.91 117.28 L251.37 117.28 L251.82 117.28 L252.27 117.28 L252.73 117.28 L253.18 117.28 L253.64 117.28 L254.09 117.28 L254.54 117.28 L255.00 117.28 L255.45 117.28 L255.91 117.28 L256.36 117.28 L256.81 117.28 L257.27 117.28 L257.72 117.28 L258.18 117.28 L258.63 117.28 L259.08 117.28 L259.54 117.28 L259.99 117.28 L260.45 117.28 L260.90 117.28 L261.35 117.28 L261.81 117.28 L262.26 117.28 L262.72 117.28 L263.17 117.28 L263.62 117.28 L264.08 117.28 L264.53 117.28 L264.99 117.28 L265.44 117.28 L265.89 117.28 L266.35 117.28 L266.80 117.28 L267.26 117.28 L267.71 117.28 L268.16 117.28 L268.62 117.28 L269.07 117.28 L269.53 117.28 L269.98 117.28 L270.43 117.28 L270.89 117.28 L271.34 117.28 L271.80 117.28 L272.25 117.28 L272.70 117.28 L273.16 117.28 L273.61 117.28 L274.07 117.28 L274.52 117.28 L274.97 117.28 L275.43 117.28 L275.88 117.28 L276.34 117.28 L276.79 117.28 L277.24 117.28 L277.70 117.28 L278.15 117.28 L278.61 117.28 L279.06 117.28 L279.51 117.28 L279.97 117.28 L280.42 117.28 L280.88 117.28 L281.33 117.28 L281.78 117.28 L282.24 117.28 L282.69 117.28 L283.15 117.28 L283.60 117.28 L284.05 117.28 L284.51 117.28 L284.96 117.28 L285.42 117.28 L285.87 117.28 L286.32 117.28 L286.78 117.28 L287.23 117.28 L287.69 117.28 L288.14 117.28 L288.59 117.28 L289.05 117.28 L289.50 117.28 L289.96 117.28 L290.41 117.28 L290.86 117.28 L291.32 117.28 L291.77 117.28 L292.23 117.28 L292.68 117.28 L293.13 117.28 L293.59 117.28 L294.04 117.28 L294.50 117.28 L294.95 117.28 L295.40 117.28 L295.86 117.28 L296.31 117.28 L296.77 117.28 L297.22 117.28 L297.67 117.28 L298.13 117.28 L298.58 117.28 L299.04 117.28 L299.49 117.28 L299.94 117.28 L300.40 117.28 L300.85 117.28 L301.31 117.28 L301.76 117.28 L302.21 117.28 L302.67 117.28 L303.12 117.28 L303.58 117.28 L304.03 117.28 L304.48 117.28 L304.94 117.28 L305.39 117.28 L305.85 117.28 L306.30 117.28 L306.75 117.28 L307.21 117.28 L307.66 117.28 L308.12 117.28 L308.57 117.28 L309.02 117.28 L309.48 117.28 L309.93 117.28 L310.39 117.28 L310.84 117.28 L311.29 117.28 L311.75 117.28 L312.20 117.28 L312.66 117.28 L313.11 117.28 L313.56 117.28 L314.02 117.28 L314.47 117.28 L314.93 117.28 L315.38 117.28 L315.83 117.28 L316.29 117.28 L316.74 117.28 L317.20 117.28 L317.65 117.28 L318.10 117.28 L318.56 117.28 L319.01 117.28 L319.47 117.28 L319.92 117.28 L320.37 117.28 L320.83 117.28 L321.28 117.28 L321.74 117.28 L322.19 117.28 L322.64 117.28 L323.10 117.28 L323.55 117.28 L324.01 117.28 L324.46 117.28 L324.91 117.28 L325.37 117.28 L325.82 117.28 L326.28 117.28 L326.73 117.28 L327.18 117.28 L327.64 117.28 L328.09 117.28 L328.55 117.28 L329.00 117.28" fill="none" stroke="#000" stroke-width="0.9" stroke-dasharray="12.5 2.5 1.3 2.5 1.3 2.4" stroke-dashoffset="-1.5"/>
<path d="M56.60 26.00V221.20H329.00" fill="none" stroke="#000" stroke-width="1"/>
<path d="M53.60 221.20H56.60" stroke="#000" stroke-width="1"/>
<text x="46.60" y="226.40" font-size="12.9" text-anchor="end">0</text>
<path d="M53.60 182.16H56.60" stroke="#000" stroke-width="1"/>
<text x="46.60" y="187.36" font-size="12.9" text-anchor="end">5</text>
<path d="M53.60 143.12H56.60" stroke="#000" stroke-width="1"/>
<text x="46.60" y="148.32" font-size="12.9" text-anchor="end">10</text>
<path d="M53.60 104.08H56.60" stroke="#000" stroke-width="1"/>
<text x="46.60" y="109.28" font-size="12.9" text-anchor="end">15</text>
<path d="M53.60 65.04H56.60" stroke="#000" stroke-width="1"/>
<text x="46.60" y="70.24" font-size="12.9" text-anchor="end">20</text>
<path d="M53.60 26.00H56.60" stroke="#000" stroke-width="1"/>
<text x="46.60" y="31.20" font-size="12.9" text-anchor="end">25</text>
<path d="M56.60 221.20V223.70" stroke="#000" stroke-width="1"/>
<text x="56.60" y="243.60" font-size="12.9" text-anchor="middle">0</text>
<path d="M91.10 221.20V223.70" stroke="#000" stroke-width="1"/>
<text x="91.10" y="243.60" font-size="12.9" text-anchor="middle">38</text>
<path d="M124.70 221.20V223.70" stroke="#000" stroke-width="1"/>
<text x="124.70" y="243.60" font-size="12.9" text-anchor="middle">75</text>
<path d="M192.80 221.20V223.70" stroke="#000" stroke-width="1"/>
<text x="192.80" y="243.60" font-size="12.9" text-anchor="middle">150</text>
<path d="M329.00 221.20V223.70" stroke="#000" stroke-width="1"/>
<text x="329.00" y="243.60" font-size="12.9" text-anchor="middle">300</text>
<circle cx="56.60" cy="54.11" r="2.75" fill="#000"/>
<circle cx="91.10" cy="116.42" r="2.75" fill="#000"/>
<circle cx="124.70" cy="129.85" r="2.75" fill="#000"/>
<circle cx="192.80" cy="141.56" r="2.75" fill="#000"/>
<circle cx="329.00" cy="140.78" r="2.75" fill="#000"/>
<circle cx="56.60" cy="54.11" r="2.2" fill="#fff" stroke="#000" stroke-width="1.1"/>
<circle cx="91.10" cy="154.83" r="2.2" fill="#fff" stroke="#000" stroke-width="1.1"/>
<circle cx="124.70" cy="149.76" r="2.2" fill="#fff" stroke="#000" stroke-width="1.1"/>
<circle cx="192.80" cy="136.09" r="2.2" fill="#fff" stroke="#000" stroke-width="1.1"/>
<circle cx="329.00" cy="147.34" r="2.2" fill="#fff" stroke="#000" stroke-width="1.1"/>
<path d="M53.60 52.36H59.60L56.60 57.61Z" fill="#000"/>
<path d="M88.10 158.86H94.10L91.10 164.11Z" fill="#000"/>
<path d="M121.70 153.00H127.70L124.70 158.25Z" fill="#000"/>
<path d="M189.80 160.03H195.80L192.80 165.28Z" fill="#000"/>
<path d="M326.00 155.74H332.00L329.00 160.99Z" fill="#000"/>
<path d="M54.35 55.70H58.85L56.60 51.80Z" fill="#fff" stroke="#000" stroke-width="0.9"/>
<path d="M88.85 121.68H93.35L91.10 117.78Z" fill="#fff" stroke="#000" stroke-width="0.9"/>
<path d="M122.45 115.43H126.95L124.70 111.53Z" fill="#fff" stroke="#000" stroke-width="0.9"/>
<path d="M190.55 105.28H195.05L192.80 101.38Z" fill="#fff" stroke="#000" stroke-width="0.9"/>
<path d="M326.75 132.61H331.25L329.00 128.71Z" fill="#fff" stroke="#000" stroke-width="0.9"/>
<text x="39.0" y="8.2" font-size="12" font-weight="bold">a</text>
<text transform="translate(15.9 123) rotate(-90)" font-size="13.4" text-anchor="middle">Plant height (cm)</text>
<text x="192.80" y="271.2" font-size="13.33" text-anchor="middle">Extract concentration (g L<tspan font-size="9.2" dy="-6">-1</tspan><tspan dy="6">)</tspan></text>
<path d="M0.10 297.50H39.60" stroke="#000" stroke-width="0.9"/>
<circle cx="15.85" cy="298.30" r="2.75" fill="#000"/>
<text x="49.5" y="303.15" font-size="13.17">DL=10.30+11.09*exp(-0.0321*x)&#160; R<tspan font-size="9.2" dy="-6">2</tspan><tspan dy="6">=0.99</tspan></text>
<path d="M0.10 315.50H39.60" stroke="#000" stroke-width="0.8" stroke-dasharray="1 2.75"/>
<circle cx="15.85" cy="315.90" r="2.2" fill="#fff" stroke="#000" stroke-width="1.1"/>
<text x="49.5" y="320.80" font-size="13.17">RC=9.48+12.95/(1+exp(-(x-12.81)/-3.52))<tspan font-size="9.2" dy="-6">3.14</tspan><tspan dy="6"> R</tspan><tspan font-size="9.2" dy="-6">2</tspan><tspan dy="6">=0.97</tspan></text>
<path d="M0.10 332.80H39.60" stroke="#000" stroke-width="0.95" stroke-dasharray="9 3.4"/>
<path d="M12.85 331.95H18.85L15.85 337.20Z" fill="#000"/>
<text x="49.5" y="338.30" font-size="13.17">PT=8.00+13.95/(1+exp(-(x-16.18)/-3.54))<tspan font-size="9.2" dy="-6">3.73</tspan><tspan dy="6"> R</tspan><tspan font-size="9.2" dy="-6">2</tspan><tspan dy="6">=0.99</tspan></text>
<path d="M0.10 350.40H39.60" stroke="#000" stroke-width="0.9" stroke-dasharray="12.5 2.5 1.3 2.5 1.3 2.4"/>
<path d="M13.60 352.30H18.10L15.85 348.40Z" fill="#fff" stroke="#000" stroke-width="0.9"/>
<text x="49.5" y="355.70" font-size="13.17">JG=13.31+9.29/(1+exp(-(x-14.67)/-4.37))<tspan font-size="9.2" dy="-6">3.95</tspan><tspan dy="6"> R</tspan><tspan font-size="9.2" dy="-6">2</tspan><tspan dy="6">=0.89</tspan></text>
<path d="M419.80 56.53 L420.25 56.70 L420.71 56.87 L421.16 57.03 L421.62 57.20 L422.07 57.37 L422.52 57.54 L422.98 57.71 L423.43 57.87 L423.89 58.04 L424.34 58.21 L424.79 58.38 L425.25 58.54 L425.70 58.71 L426.16 58.88 L426.61 59.04 L427.06 59.21 L427.52 59.37 L427.97 59.54 L428.43 59.71 L428.88 59.87 L429.33 60.04 L429.79 60.20 L430.24 60.37 L430.70 60.53 L431.15 60.70 L431.60 60.86 L432.06 61.02 L432.51 61.19 L432.97 61.35 L433.42 61.52 L433.87 61.68 L434.33 61.84 L434.78 62.01 L435.24 62.17 L435.69 62.33 L436.14 62.49 L436.60 62.66 L437.05 62.82 L437.51 62.98 L437.96 63.14 L438.41 63.31 L438.87 63.47 L439.32 63.63 L439.78 63.79 L440.23 63.95 L440.68 64.11 L441.14 64.27 L441.59 64.44 L442.05 64.60 L442.50 64.76 L442.95 64.92 L443.41 65.08 L443.86 65.24 L444.32 65.40 L444.77 65.56 L445.22 65.72 L445.68 65.87 L446.13 66.03 L446.59 66.19 L447.04 66.35 L447.49 66.51 L447.95 66.67 L448.40 66.83 L448.86 66.98 L449.31 67.14 L449.76 67.30 L450.22 67.46 L450.67 67.62 L451.13 67.77 L451.58 67.93 L452.03 68.09 L452.49 68.24 L452.94 68.40 L453.40 68.56 L453.85 68.71 L454.30 68.87 L454.76 69.03 L455.21 69.18 L455.67 69.34 L456.12 69.49 L456.57 69.65 L457.03 69.80 L457.48 69.96 L457.94 70.11 L458.39 70.27 L458.84 70.42 L459.30 70.58 L459.75 70.73 L460.21 70.89 L460.66 71.04 L461.11 71.19 L461.57 71.35 L462.02 71.50 L462.48 71.65 L462.93 71.81 L463.38 71.96 L463.84 72.11 L464.29 72.27 L464.75 72.42 L465.20 72.57 L465.65 72.72 L466.11 72.88 L466.56 73.03 L467.02 73.18 L467.47 73.33 L467.92 73.48 L468.38 73.63 L468.83 73.79 L469.29 73.94 L469.74 74.09 L470.19 74.24 L470.65 74.39 L471.10 74.54 L471.56 74.69 L472.01 74.84 L472.46 74.99 L472.92 75.14 L473.37 75.29 L473.83 75.44 L474.28 75.59 L474.73 75.74 L475.19 75.89 L475.64 76.03 L476.10 76.18 L476.55 76.33 L477.00 76.48 L477.46 76.63 L477.91 76.78 L478.37 76.92 L478.82 77.07 L479.27 77.22 L479.73 77.37 L480.18 77.52 L480.64 77.66 L481.09 77.81 L481.54 77.96 L482.00 78.10 L482.45 78.25 L482.91 78.40 L483.36 78.54 L483.81 78.69 L484.27 78.83 L484.72 78.98 L485.18 79.13 L485.63 79.27 L486.08 79.42 L486.54 79.56 L486.99 79.71 L487.45 79.85 L487.90 80.00 L488.35 80.14 L488.81 80.29 L489.26 80.43 L489.72 80.57 L490.17 80.72 L490.62 80.86 L491.08 81.01 L491.53 81.15 L491.99 81.29 L492.44 81.44 L492.89 81.58 L493.35 81.72 L493.80 81.87 L494.26 82.01 L494.71 82.15 L495.16 82.29 L495.62 82.44 L496.07 82.58 L496.53 82.72 L496.98 82.86 L497.43 83.00 L497.89 83.15 L498.34 83.29 L498.80 83.43 L499.25 83.57 L499.70 83.71 L500.16 83.85 L500.61 83.99 L501.07 84.13 L501.52 84.27 L501.97 84.41 L502.43 84.55 L502.88 84.69 L503.34 84.83 L503.79 84.97 L504.24 85.11 L504.70 85.25 L505.15 85.39 L505.61 85.53 L506.06 85.67 L506.51 85.81 L506.97 85.95 L507.42 86.09 L507.88 86.22 L508.33 86.36 L508.78 86.50 L509.24 86.64 L509.69 86.78 L510.15 86.91 L510.60 87.05 L511.05 87.19 L511.51 87.33 L511.96 87.46 L512.42 87.60 L512.87 87.74 L513.32 87.87 L513.78 88.01 L514.23 88.15 L514.69 88.28 L515.14 88.42 L515.59 88.56 L516.05 88.69 L516.50 88.83 L516.96 88.96 L517.41 89.10 L517.86 89.23 L518.32 89.37 L518.77 89.50 L519.23 89.64 L519.68 89.77 L520.13 89.91 L520.59 90.04 L521.04 90.18 L521.50 90.31 L521.95 90.45 L522.40 90.58 L522.86 90.71 L523.31 90.85 L523.77 90.98 L524.22 91.11 L524.67 91.25 L525.13 91.38 L525.58 91.51 L526.04 91.65 L526.49 91.78 L526.94 91.91 L527.40 92.04 L527.85 92.18 L528.31 92.31 L528.76 92.44 L529.21 92.57 L529.67 92.70 L530.12 92.84 L530.58 92.97 L531.03 93.10 L531.48 93.23 L531.94 93.36 L532.39 93.49 L532.85 93.62 L533.30 93.75 L533.75 93.88 L534.21 94.01 L534.66 94.14 L535.12 94.27 L535.57 94.40 L536.02 94.53 L536.48 94.66 L536.93 94.79 L537.39 94.92 L537.84 95.05 L538.29 95.18 L538.75 95.31 L539.20 95.44 L539.66 95.57 L540.11 95.70 L540.56 95.83 L541.02 95.95 L541.47 96.08 L541.93 96.21 L542.38 96.34 L542.83 96.47 L543.29 96.60 L543.74 96.72 L544.20 96.85 L544.65 96.98 L545.10 97.10 L545.56 97.23 L546.01 97.36 L546.47 97.49 L546.92 97.61 L547.37 97.74 L547.83 97.87 L548.28 97.99 L548.74 98.12 L549.19 98.24 L549.64 98.37 L550.10 98.50 L550.55 98.62 L551.01 98.75 L551.46 98.87 L551.91 99.00 L552.37 99.12 L552.82 99.25 L553.28 99.37 L553.73 99.50 L554.18 99.62 L554.64 99.75 L555.09 99.87 L555.55 100.00 L556.00 100.12 L556.45 100.24 L556.91 100.37 L557.36 100.49 L557.82 100.62 L558.27 100.74 L558.72 100.86 L559.18 100.99 L559.63 101.11 L560.09 101.23 L560.54 101.36 L560.99 101.48 L561.45 101.60 L561.90 101.72 L562.36 101.85 L562.81 101.97 L563.26 102.09 L563.72 102.21 L564.17 102.33 L564.63 102.46 L565.08 102.58 L565.53 102.70 L565.99 102.82 L566.44 102.94 L566.90 103.06 L567.35 103.18 L567.80 103.30 L568.26 103.43 L568.71 103.55 L569.17 103.67 L569.62 103.79 L570.07 103.91 L570.53 104.03 L570.98 104.15 L571.44 104.27 L571.89 104.39 L572.34 104.51 L572.80 104.63 L573.25 104.75 L573.71 104.87 L574.16 104.98 L574.61 105.10 L575.07 105.22 L575.52 105.34 L575.98 105.46 L576.43 105.58 L576.88 105.70 L577.34 105.82 L577.79 105.93 L578.25 106.05 L578.70 106.17 L579.15 106.29 L579.61 106.41 L580.06 106.52 L580.52 106.64 L580.97 106.76 L581.42 106.87 L581.88 106.99 L582.33 107.11 L582.79 107.23 L583.24 107.34 L583.69 107.46 L584.15 107.58 L584.60 107.69 L585.06 107.81 L585.51 107.92 L585.96 108.04 L586.42 108.16 L586.87 108.27 L587.33 108.39 L587.78 108.50 L588.23 108.62 L588.69 108.73 L589.14 108.85 L589.60 108.96 L590.05 109.08 L590.50 109.19 L590.96 109.31 L591.41 109.42 L591.87 109.54 L592.32 109.65 L592.77 109.77 L593.23 109.88 L593.68 110.00 L594.14 110.11 L594.59 110.22 L595.04 110.34 L595.50 110.45 L595.95 110.56 L596.41 110.68 L596.86 110.79 L597.31 110.90 L597.77 111.02 L598.22 111.13 L598.68 111.24 L599.13 111.35 L599.58 111.47 L600.04 111.58 L600.49 111.69 L600.95 111.80 L601.40 111.92 L601.85 112.03 L602.31 112.14 L602.76 112.25 L603.22 112.36 L603.67 112.47 L604.12 112.59 L604.58 112.70 L605.03 112.81 L605.49 112.92 L605.94 113.03 L606.39 113.14 L606.85 113.25 L607.30 113.36 L607.76 113.47 L608.21 113.58 L608.66 113.69 L609.12 113.80 L609.57 113.91 L610.03 114.02 L610.48 114.13 L610.93 114.24 L611.39 114.35 L611.84 114.46 L612.30 114.57 L612.75 114.68 L613.20 114.79 L613.66 114.90 L614.11 115.01 L614.57 115.12 L615.02 115.23 L615.47 115.33 L615.93 115.44 L616.38 115.55 L616.84 115.66 L617.29 115.77 L617.74 115.88 L618.20 115.98 L618.65 116.09 L619.11 116.20 L619.56 116.31 L620.01 116.41 L620.47 116.52 L620.92 116.63 L621.38 116.74 L621.83 116.84 L622.28 116.95 L622.74 117.06 L623.19 117.16 L623.65 117.27 L624.10 117.38 L624.55 117.48 L625.01 117.59 L625.46 117.69 L625.92 117.80 L626.37 117.91 L626.82 118.01 L627.28 118.12 L627.73 118.22 L628.19 118.33 L628.64 118.43 L629.09 118.54 L629.55 118.65 L630.00 118.75 L630.46 118.86 L630.91 118.96 L631.36 119.06 L631.82 119.17 L632.27 119.27 L632.73 119.38 L633.18 119.48 L633.63 119.59 L634.09 119.69 L634.54 119.79 L635.00 119.90 L635.45 120.00 L635.90 120.11 L636.36 120.21 L636.81 120.31 L637.27 120.42 L637.72 120.52 L638.17 120.62 L638.63 120.73 L639.08 120.83 L639.54 120.93 L639.99 121.03 L640.44 121.14 L640.90 121.24 L641.35 121.34 L641.81 121.44 L642.26 121.55 L642.71 121.65 L643.17 121.75 L643.62 121.85 L644.08 121.95 L644.53 122.06 L644.98 122.16 L645.44 122.26 L645.89 122.36 L646.35 122.46 L646.80 122.56 L647.25 122.66 L647.71 122.76 L648.16 122.87 L648.62 122.97 L649.07 123.07 L649.52 123.17 L649.98 123.27 L650.43 123.37 L650.89 123.47 L651.34 123.57 L651.79 123.67 L652.25 123.77 L652.70 123.87 L653.16 123.97 L653.61 124.07 L654.06 124.17 L654.52 124.27 L654.97 124.37 L655.43 124.47 L655.88 124.56 L656.33 124.66 L656.79 124.76 L657.24 124.86 L657.70 124.96 L658.15 125.06 L658.60 125.16 L659.06 125.26 L659.51 125.35 L659.97 125.45 L660.42 125.55 L660.87 125.65 L661.33 125.75 L661.78 125.84 L662.24 125.94 L662.69 126.04 L663.14 126.14 L663.60 126.23 L664.05 126.33 L664.51 126.43 L664.96 126.53 L665.41 126.62 L665.87 126.72 L666.32 126.82 L666.78 126.91 L667.23 127.01 L667.68 127.11 L668.14 127.20 L668.59 127.30 L669.05 127.39 L669.50 127.49 L669.95 127.59 L670.41 127.68 L670.86 127.78 L671.32 127.87 L671.77 127.97 L672.22 128.07 L672.68 128.16 L673.13 128.26 L673.59 128.35 L674.04 128.45 L674.49 128.54 L674.95 128.64 L675.40 128.73 L675.86 128.83 L676.31 128.92 L676.76 129.01 L677.22 129.11 L677.67 129.20 L678.13 129.30 L678.58 129.39 L679.03 129.49 L679.49 129.58 L679.94 129.67 L680.40 129.77 L680.85 129.86 L681.30 129.96 L681.76 130.05 L682.21 130.14 L682.67 130.24 L683.12 130.33 L683.57 130.42 L684.03 130.51 L684.48 130.61 L684.94 130.70 L685.39 130.79 L685.84 130.89 L686.30 130.98 L686.75 131.07 L687.21 131.16 L687.66 131.26 L688.11 131.35 L688.57 131.44 L689.02 131.53 L689.48 131.62 L689.93 131.71 L690.38 131.81 L690.84 131.90 L691.29 131.99 L691.75 132.08 L692.20 132.17" fill="none" stroke="#000" stroke-width="0.9"/>
<path d="M419.80 53.74 L420.25 54.90 L420.71 56.48 L421.16 58.62 L421.62 61.45 L422.07 65.12 L422.52 69.77 L422.98 75.45 L423.43 82.12 L423.89 89.57 L424.34 97.46 L424.79 105.36 L425.25 112.84 L425.70 119.54 L426.16 125.26 L426.61 129.95 L427.06 133.66 L427.52 136.52 L427.97 138.68 L428.43 140.28 L428.88 141.46 L429.33 142.32 L429.79 142.94 L430.24 143.38 L430.70 143.70 L431.15 143.93 L431.60 144.10 L432.06 144.21 L432.51 144.30 L432.97 144.36 L433.42 144.40 L433.87 144.43 L434.33 144.45 L434.78 144.47 L435.24 144.48 L435.69 144.49 L436.14 144.49 L436.60 144.50 L437.05 144.50 L437.51 144.50 L437.96 144.50 L438.41 144.50 L438.87 144.50 L439.32 144.50 L439.78 144.50 L440.23 144.50 L440.68 144.50 L441.14 144.50 L441.59 144.50 L442.05 144.50 L442.50 144.50 L442.95 144.50 L443.41 144.50 L443.86 144.50 L444.32 144.51 L444.77 144.51 L445.22 144.51 L445.68 144.51 L446.13 144.51 L446.59 144.51 L447.04 144.51 L447.49 144.51 L447.95 144.51 L448.40 144.51 L448.86 144.51 L449.31 144.51 L449.76 144.51 L450.22 144.51 L450.67 144.51 L451.13 144.51 L451.58 144.51 L452.03 144.51 L452.49 144.51 L452.94 144.51 L453.40 144.51 L453.85 144.51 L454.30 144.51 L454.76 144.51 L455.21 144.51 L455.67 144.51 L456.12 144.51 L456.57 144.51 L457.03 144.51 L457.48 144.51 L457.94 144.51 L458.39 144.51 L458.84 144.51 L459.30 144.51 L459.75 144.51 L460.21 144.51 L460.66 144.51 L461.11 144.51 L461.57 144.51 L462.02 144.51 L462.48 144.51 L462.93 144.51 L463.38 144.51 L463.84 144.51 L464.29 144.51 L464.75 144.51 L465.20 144.51 L465.65 144.51 L466.11 144.51 L466.56 144.51 L467.02 144.51 L467.47 144.51 L467.92 144.51 L468.38 144.51 L468.83 144.51 L469.29 144.51 L469.74 144.51 L470.19 144.51 L470.65 144.51 L471.10 144.51 L471.56 144.51 L472.01 144.51 L472.46 144.51 L472.92 144.51 L473.37 144.51 L473.83 144.51 L474.28 144.51 L474.73 144.51 L475.19 144.51 L475.64 144.51 L476.10 144.51 L476.55 144.51 L477.00 144.51 L477.46 144.51 L477.91 144.51 L478.37 144.51 L478.82 144.51 L479.27 144.51 L479.73 144.51 L480.18 144.51 L480.64 144.51 L481.09 144.51 L481.54 144.51 L482.00 144.51 L482.45 144.51 L482.91 144.51 L483.36 144.51 L483.81 144.51 L484.27 144.51 L484.72 144.51 L485.18 144.51 L485.63 144.51 L486.08 144.51 L486.54 144.51 L486.99 144.51 L487.45 144.51 L487.90 144.51 L488.35 144.51 L488.81 144.51 L489.26 144.51 L489.72 144.51 L490.17 144.51 L490.62 144.51 L491.08 144.51 L491.53 144.51 L491.99 144.51 L492.44 144.51 L492.89 144.51 L493.35 144.51 L493.80 144.51 L494.26 144.51 L494.71 144.51 L495.16 144.51 L495.62 144.51 L496.07 144.51 L496.53 144.51 L496.98 144.51 L497.43 144.51 L497.89 144.51 L498.34 144.51 L498.80 144.51 L499.25 144.51 L499.70 144.51 L500.16 144.51 L500.61 144.51 L501.07 144.51 L501.52 144.51 L501.97 144.51 L502.43 144.51 L502.88 144.51 L503.34 144.51 L503.79 144.51 L504.24 144.51 L504.70 144.51 L505.15 144.51 L505.61 144.51 L506.06 144.51 L506.51 144.51 L506.97 144.51 L507.42 144.51 L507.88 144.51 L508.33 144.51 L508.78 144.51 L509.24 144.51 L509.69 144.51 L510.15 144.51 L510.60 144.51 L511.05 144.51 L511.51 144.51 L511.96 144.51 L512.42 144.51 L512.87 144.51 L513.32 144.51 L513.78 144.51 L514.23 144.51 L514.69 144.51 L515.14 144.51 L515.59 144.51 L516.05 144.51 L516.50 144.51 L516.96 144.51 L517.41 144.51 L517.86 144.51 L518.32 144.51 L518.77 144.51 L519.23 144.51 L519.68 144.51 L520.13 144.51 L520.59 144.51 L521.04 144.51 L521.50 144.51 L521.95 144.51 L522.40 144.51 L522.86 144.51 L523.31 144.51 L523.77 144.51 L524.22 144.51 L524.67 144.51 L525.13 144.51 L525.58 144.51 L526.04 144.51 L526.49 144.51 L526.94 144.51 L527.40 144.51 L527.85 144.51 L528.31 144.51 L528.76 144.51 L529.21 144.51 L529.67 144.51 L530.12 144.51 L530.58 144.51 L531.03 144.51 L531.48 144.51 L531.94 144.51 L532.39 144.51 L532.85 144.51 L533.30 144.51 L533.75 144.51 L534.21 144.51 L534.66 144.51 L535.12 144.51 L535.57 144.51 L536.02 144.51 L536.48 144.51 L536.93 144.51 L537.39 144.51 L537.84 144.51 L538.29 144.51 L538.75 144.51 L539.20 144.51 L539.66 144.51 L540.11 144.51 L540.56 144.51 L541.02 144.51 L541.47 144.51 L541.93 144.51 L542.38 144.51 L542.83 144.51 L543.29 144.51 L543.74 144.51 L544.20 144.51 L544.65 144.51 L545.10 144.51 L545.56 144.51 L546.01 144.51 L546.47 144.51 L546.92 144.51 L547.37 144.51 L547.83 144.51 L548.28 144.51 L548.74 144.51 L549.19 144.51 L549.64 144.51 L550.10 144.51 L550.55 144.51 L551.01 144.51 L551.46 144.51 L551.91 144.51 L552.37 144.51 L552.82 144.51 L553.28 144.51 L553.73 144.51 L554.18 144.51 L554.64 144.51 L555.09 144.51 L555.55 144.51 L556.00 144.51 L556.45 144.51 L556.91 144.51 L557.36 144.51 L557.82 144.51 L558.27 144.51 L558.72 144.51 L559.18 144.51 L559.63 144.51 L560.09 144.51 L560.54 144.51 L560.99 144.51 L561.45 144.51 L561.90 144.51 L562.36 144.51 L562.81 144.51 L563.26 144.51 L563.72 144.51 L564.17 144.51 L564.63 144.51 L565.08 144.51 L565.53 144.51 L565.99 144.51 L566.44 144.51 L566.90 144.51 L567.35 144.51 L567.80 144.51 L568.26 144.51 L568.71 144.51 L569.17 144.51 L569.62 144.51 L570.07 144.51 L570.53 144.51 L570.98 144.51 L571.44 144.51 L571.89 144.51 L572.34 144.51 L572.80 144.51 L573.25 144.51 L573.71 144.51 L574.16 144.51 L574.61 144.51 L575.07 144.51 L575.52 144.51 L575.98 144.51 L576.43 144.51 L576.88 144.51 L577.34 144.51 L577.79 144.51 L578.25 144.51 L578.70 144.51 L579.15 144.51 L579.61 144.51 L580.06 144.51 L580.52 144.51 L580.97 144.51 L581.42 144.51 L581.88 144.51 L582.33 144.51 L582.79 144.51 L583.24 144.51 L583.69 144.51 L584.15 144.51 L584.60 144.51 L585.06 144.51 L585.51 144.51 L585.96 144.51 L586.42 144.51 L586.87 144.51 L587.33 144.51 L587.78 144.51 L588.23 144.51 L588.69 144.51 L589.14 144.51 L589.60 144.51 L590.05 144.51 L590.50 144.51 L590.96 144.51 L591.41 144.51 L591.87 144.51 L592.32 144.51 L592.77 144.51 L593.23 144.51 L593.68 144.51 L594.14 144.51 L594.59 144.51 L595.04 144.51 L595.50 144.51 L595.95 144.51 L596.41 144.51 L596.86 144.51 L597.31 144.51 L597.77 144.51 L598.22 144.51 L598.68 144.51 L599.13 144.51 L599.58 144.51 L600.04 144.51 L600.49 144.51 L600.95 144.51 L601.40 144.51 L601.85 144.51 L602.31 144.51 L602.76 144.51 L603.22 144.51 L603.67 144.51 L604.12 144.51 L604.58 144.51 L605.03 144.51 L605.49 144.51 L605.94 144.51 L606.39 144.51 L606.85 144.51 L607.30 144.51 L607.76 144.51 L608.21 144.51 L608.66 144.51 L609.12 144.51 L609.57 144.51 L610.03 144.51 L610.48 144.51 L610.93 144.51 L611.39 144.51 L611.84 144.51 L612.30 144.51 L612.75 144.51 L613.20 144.51 L613.66 144.51 L614.11 144.51 L614.57 144.51 L615.02 144.51 L615.47 144.51 L615.93 144.51 L616.38 144.51 L616.84 144.51 L617.29 144.51 L617.74 144.51 L618.20 144.51 L618.65 144.51 L619.11 144.51 L619.56 144.51 L620.01 144.51 L620.47 144.51 L620.92 144.51 L621.38 144.51 L621.83 144.51 L622.28 144.51 L622.74 144.51 L623.19 144.51 L623.65 144.51 L624.10 144.51 L624.55 144.51 L625.01 144.51 L625.46 144.51 L625.92 144.51 L626.37 144.51 L626.82 144.51 L627.28 144.51 L627.73 144.51 L628.19 144.51 L628.64 144.51 L629.09 144.51 L629.55 144.51 L630.00 144.51 L630.46 144.51 L630.91 144.51 L631.36 144.51 L631.82 144.51 L632.27 144.51 L632.73 144.51 L633.18 144.51 L633.63 144.51 L634.09 144.51 L634.54 144.51 L635.00 144.51 L635.45 144.51 L635.90 144.51 L636.36 144.51 L636.81 144.51 L637.27 144.51 L637.72 144.51 L638.17 144.51 L638.63 144.51 L639.08 144.51 L639.54 144.51 L639.99 144.51 L640.44 144.51 L640.90 144.51 L641.35 144.51 L641.81 144.51 L642.26 144.51 L642.71 144.51 L643.17 144.51 L643.62 144.51 L644.08 144.51 L644.53 144.51 L644.98 144.51 L645.44 144.51 L645.89 144.51 L646.35 144.51 L646.80 144.51 L647.25 144.51 L647.71 144.51 L648.16 144.51 L648.62 144.51 L649.07 144.51 L649.52 144.51 L649.98 144.51 L650.43 144.51 L650.89 144.51 L651.34 144.51 L651.79 144.51 L652.25 144.51 L652.70 144.51 L653.16 144.51 L653.61 144.51 L654.06 144.51 L654.52 144.51 L654.97 144.51 L655.43 144.51 L655.88 144.51 L656.33 144.51 L656.79 144.51 L657.24 144.51 L657.70 144.51 L658.15 144.51 L658.60 144.51 L659.06 144.51 L659.51 144.51 L659.97 144.51 L660.42 144.51 L660.87 144.51 L661.33 144.51 L661.78 144.51 L662.24 144.51 L662.69 144.51 L663.14 144.51 L663.60 144.51 L664.05 144.51 L664.51 144.51 L664.96 144.51 L665.41 144.51 L665.87 144.51 L666.32 144.51 L666.78 144.51 L667.23 144.51 L667.68 144.51 L668.14 144.51 L668.59 144.51 L669.05 144.51 L669.50 144.51 L669.95 144.51 L670.41 144.51 L670.86 144.51 L671.32 144.51 L671.77 144.51 L672.22 144.51 L672.68 144.51 L673.13 144.51 L673.59 144.51 L674.04 144.51 L674.49 144.51 L674.95 144.51 L675.40 144.51 L675.86 144.51 L676.31 144.51 L676.76 144.51 L677.22 144.51 L677.67 144.51 L678.13 144.51 L678.58 144.51 L679.03 144.51 L679.49 144.51 L679.94 144.51 L680.40 144.51 L680.85 144.51 L681.30 144.51 L681.76 144.51 L682.21 144.51 L682.67 144.51 L683.12 144.51 L683.57 144.51 L684.03 144.51 L684.48 144.51 L684.94 144.51 L685.39 144.51 L685.84 144.51 L686.30 144.51 L686.75 144.51 L687.21 144.51 L687.66 144.51 L688.11 144.51 L688.57 144.51 L689.02 144.51 L689.48 144.51 L689.93 144.51 L690.38 144.51 L690.84 144.51 L691.29 144.51 L691.75 144.51 L692.20 144.51" fill="none" stroke="#000" stroke-width="0.8" stroke-dasharray="1 2.75" stroke-dashoffset="-1"/>
<path d="M419.80 53.25 L420.25 55.64 L420.71 58.74 L421.16 62.70 L421.62 67.62 L422.07 73.54 L422.52 80.43 L422.98 88.11 L423.43 96.26 L423.89 104.49 L424.34 112.40 L424.79 119.63 L425.25 125.96 L425.70 131.28 L426.16 135.61 L426.61 139.03 L427.06 141.69 L427.52 143.72 L427.97 145.24 L428.43 146.38 L428.88 147.22 L429.33 147.84 L429.79 148.30 L430.24 148.63 L430.70 148.87 L431.15 149.05 L431.60 149.18 L432.06 149.27 L432.51 149.34 L432.97 149.39 L433.42 149.43 L433.87 149.45 L434.33 149.47 L434.78 149.49 L435.24 149.50 L435.69 149.50 L436.14 149.51 L436.60 149.51 L437.05 149.52 L437.51 149.52 L437.96 149.52 L438.41 149.52 L438.87 149.52 L439.32 149.52 L439.78 149.52 L440.23 149.52 L440.68 149.52 L441.14 149.52 L441.59 149.52 L442.05 149.52 L442.50 149.52 L442.95 149.52 L443.41 149.52 L443.86 149.52 L444.32 149.52 L444.77 149.52 L445.22 149.52 L445.68 149.52 L446.13 149.52 L446.59 149.52 L447.04 149.52 L447.49 149.52 L447.95 149.52 L448.40 149.52 L448.86 149.52 L449.31 149.52 L449.76 149.52 L450.22 149.52 L450.67 149.52 L451.13 149.52 L451.58 149.52 L452.03 149.52 L452.49 149.52 L452.94 149.52 L453.40 149.52 L453.85 149.52 L454.30 149.52 L454.76 149.52 L455.21 149.52 L455.67 149.52 L456.12 149.52 L456.57 149.52 L457.03 149.52 L457.48 149.52 L457.94 149.52 L458.39 149.52 L458.84 149.52 L459.30 149.52 L459.75 149.52 L460.21 149.52 L460.66 149.52 L461.11 149.52 L461.57 149.52 L462.02 149.52 L462.48 149.52 L462.93 149.52 L463.38 149.52 L463.84 149.52 L464.29 149.52 L464.75 149.52 L465.20 149.52 L465.65 149.52 L466.11 149.52 L466.56 149.52 L467.02 149.52 L467.47 149.52 L467.92 149.52 L468.38 149.52 L468.83 149.52 L469.29 149.52 L469.74 149.52 L470.19 149.52 L470.65 149.52 L471.10 149.52 L471.56 149.52 L472.01 149.52 L472.46 149.52 L472.92 149.52 L473.37 149.52 L473.83 149.52 L474.28 149.52 L474.73 149.52 L475.19 149.52 L475.64 149.52 L476.10 149.52 L476.55 149.52 L477.00 149.52 L477.46 149.52 L477.91 149.52 L478.37 149.52 L478.82 149.52 L479.27 149.52 L479.73 149.52 L480.18 149.52 L480.64 149.52 L481.09 149.52 L481.54 149.52 L482.00 149.52 L482.45 149.52 L482.91 149.52 L483.36 149.52 L483.81 149.52 L484.27 149.52 L484.72 149.52 L485.18 149.52 L485.63 149.52 L486.08 149.52 L486.54 149.52 L486.99 149.52 L487.45 149.52 L487.90 149.52 L488.35 149.52 L488.81 149.52 L489.26 149.52 L489.72 149.52 L490.17 149.52 L490.62 149.52 L491.08 149.52 L491.53 149.52 L491.99 149.52 L492.44 149.52 L492.89 149.52 L493.35 149.52 L493.80 149.52 L494.26 149.52 L494.71 149.52 L495.16 149.52 L495.62 149.52 L496.07 149.52 L496.53 149.52 L496.98 149.52 L497.43 149.52 L497.89 149.52 L498.34 149.52 L498.80 149.52 L499.25 149.52 L499.70 149.52 L500.16 149.52 L500.61 149.52 L501.07 149.52 L501.52 149.52 L501.97 149.52 L502.43 149.52 L502.88 149.52 L503.34 149.52 L503.79 149.52 L504.24 149.52 L504.70 149.52 L505.15 149.52 L505.61 149.52 L506.06 149.52 L506.51 149.52 L506.97 149.52 L507.42 149.52 L507.88 149.52 L508.33 149.52 L508.78 149.52 L509.24 149.52 L509.69 149.52 L510.15 149.52 L510.60 149.52 L511.05 149.52 L511.51 149.52 L511.96 149.52 L512.42 149.52 L512.87 149.52 L513.32 149.52 L513.78 149.52 L514.23 149.52 L514.69 149.52 L515.14 149.52 L515.59 149.52 L516.05 149.52 L516.50 149.52 L516.96 149.52 L517.41 149.52 L517.86 149.52 L518.32 149.52 L518.77 149.52 L519.23 149.52 L519.68 149.52 L520.13 149.52 L520.59 149.52 L521.04 149.52 L521.50 149.52 L521.95 149.52 L522.40 149.52 L522.86 149.52 L523.31 149.52 L523.77 149.52 L524.22 149.52 L524.67 149.52 L525.13 149.52 L525.58 149.52 L526.04 149.52 L526.49 149.52 L526.94 149.52 L527.40 149.52 L527.85 149.52 L528.31 149.52 L528.76 149.52 L529.21 149.52 L529.67 149.52 L530.12 149.52 L530.58 149.52 L531.03 149.52 L531.48 149.52 L531.94 149.52 L532.39 149.52 L532.85 149.52 L533.30 149.52 L533.75 149.52 L534.21 149.52 L534.66 149.52 L535.12 149.52 L535.57 149.52 L536.02 149.52 L536.48 149.52 L536.93 149.52 L537.39 149.52 L537.84 149.52 L538.29 149.52 L538.75 149.52 L539.20 149.52 L539.66 149.52 L540.11 149.52 L540.56 149.52 L541.02 149.52 L541.47 149.52 L541.93 149.52 L542.38 149.52 L542.83 149.52 L543.29 149.52 L543.74 149.52 L544.20 149.52 L544.65 149.52 L545.10 149.52 L545.56 149.52 L546.01 149.52 L546.47 149.52 L546.92 149.52 L547.37 149.52 L547.83 149.52 L548.28 149.52 L548.74 149.52 L549.19 149.52 L549.64 149.52 L550.10 149.52 L550.55 149.52 L551.01 149.52 L551.46 149.52 L551.91 149.52 L552.37 149.52 L552.82 149.52 L553.28 149.52 L553.73 149.52 L554.18 149.52 L554.64 149.52 L555.09 149.52 L555.55 149.52 L556.00 149.52 L556.45 149.52 L556.91 149.52 L557.36 149.52 L557.82 149.52 L558.27 149.52 L558.72 149.52 L559.18 149.52 L559.63 149.52 L560.09 149.52 L560.54 149.52 L560.99 149.52 L561.45 149.52 L561.90 149.52 L562.36 149.52 L562.81 149.52 L563.26 149.52 L563.72 149.52 L564.17 149.52 L564.63 149.52 L565.08 149.52 L565.53 149.52 L565.99 149.52 L566.44 149.52 L566.90 149.52 L567.35 149.52 L567.80 149.52 L568.26 149.52 L568.71 149.52 L569.17 149.52 L569.62 149.52 L570.07 149.52 L570.53 149.52 L570.98 149.52 L571.44 149.52 L571.89 149.52 L572.34 149.52 L572.80 149.52 L573.25 149.52 L573.71 149.52 L574.16 149.52 L574.61 149.52 L575.07 149.52 L575.52 149.52 L575.98 149.52 L576.43 149.52 L576.88 149.52 L577.34 149.52 L577.79 149.52 L578.25 149.52 L578.70 149.52 L579.15 149.52 L579.61 149.52 L580.06 149.52 L580.52 149.52 L580.97 149.52 L581.42 149.52 L581.88 149.52 L582.33 149.52 L582.79 149.52 L583.24 149.52 L583.69 149.52 L584.15 149.52 L584.60 149.52 L585.06 149.52 L585.51 149.52 L585.96 149.52 L586.42 149.52 L586.87 149.52 L587.33 149.52 L587.78 149.52 L588.23 149.52 L588.69 149.52 L589.14 149.52 L589.60 149.52 L590.05 149.52 L590.50 149.52 L590.96 149.52 L591.41 149.52 L591.87 149.52 L592.32 149.52 L592.77 149.52 L593.23 149.52 L593.68 149.52 L594.14 149.52 L594.59 149.52 L595.04 149.52 L595.50 149.52 L595.95 149.52 L596.41 149.52 L596.86 149.52 L597.31 149.52 L597.77 149.52 L598.22 149.52 L598.68 149.52 L599.13 149.52 L599.58 149.52 L600.04 149.52 L600.49 149.52 L600.95 149.52 L601.40 149.52 L601.85 149.52 L602.31 149.52 L602.76 149.52 L603.22 149.52 L603.67 149.52 L604.12 149.52 L604.58 149.52 L605.03 149.52 L605.49 149.52 L605.94 149.52 L606.39 149.52 L606.85 149.52 L607.30 149.52 L607.76 149.52 L608.21 149.52 L608.66 149.52 L609.12 149.52 L609.57 149.52 L610.03 149.52 L610.48 149.52 L610.93 149.52 L611.39 149.52 L611.84 149.52 L612.30 149.52 L612.75 149.52 L613.20 149.52 L613.66 149.52 L614.11 149.52 L614.57 149.52 L615.02 149.52 L615.47 149.52 L615.93 149.52 L616.38 149.52 L616.84 149.52 L617.29 149.52 L617.74 149.52 L618.20 149.52 L618.65 149.52 L619.11 149.52 L619.56 149.52 L620.01 149.52 L620.47 149.52 L620.92 149.52 L621.38 149.52 L621.83 149.52 L622.28 149.52 L622.74 149.52 L623.19 149.52 L623.65 149.52 L624.10 149.52 L624.55 149.52 L625.01 149.52 L625.46 149.52 L625.92 149.52 L626.37 149.52 L626.82 149.52 L627.28 149.52 L627.73 149.52 L628.19 149.52 L628.64 149.52 L629.09 149.52 L629.55 149.52 L630.00 149.52 L630.46 149.52 L630.91 149.52 L631.36 149.52 L631.82 149.52 L632.27 149.52 L632.73 149.52 L633.18 149.52 L633.63 149.52 L634.09 149.52 L634.54 149.52 L635.00 149.52 L635.45 149.52 L635.90 149.52 L636.36 149.52 L636.81 149.52 L637.27 149.52 L637.72 149.52 L638.17 149.52 L638.63 149.52 L639.08 149.52 L639.54 149.52 L639.99 149.52 L640.44 149.52 L640.90 149.52 L641.35 149.52 L641.81 149.52 L642.26 149.52 L642.71 149.52 L643.17 149.52 L643.62 149.52 L644.08 149.52 L644.53 149.52 L644.98 149.52 L645.44 149.52 L645.89 149.52 L646.35 149.52 L646.80 149.52 L647.25 149.52 L647.71 149.52 L648.16 149.52 L648.62 149.52 L649.07 149.52 L649.52 149.52 L649.98 149.52 L650.43 149.52 L650.89 149.52 L651.34 149.52 L651.79 149.52 L652.25 149.52 L652.70 149.52 L653.16 149.52 L653.61 149.52 L654.06 149.52 L654.52 149.52 L654.97 149.52 L655.43 149.52 L655.88 149.52 L656.33 149.52 L656.79 149.52 L657.24 149.52 L657.70 149.52 L658.15 149.52 L658.60 149.52 L659.06 149.52 L659.51 149.52 L659.97 149.52 L660.42 149.52 L660.87 149.52 L661.33 149.52 L661.78 149.52 L662.24 149.52 L662.69 149.52 L663.14 149.52 L663.60 149.52 L664.05 149.52 L664.51 149.52 L664.96 149.52 L665.41 149.52 L665.87 149.52 L666.32 149.52 L666.78 149.52 L667.23 149.52 L667.68 149.52 L668.14 149.52 L668.59 149.52 L669.05 149.52 L669.50 149.52 L669.95 149.52 L670.41 149.52 L670.86 149.52 L671.32 149.52 L671.77 149.52 L672.22 149.52 L672.68 149.52 L673.13 149.52 L673.59 149.52 L674.04 149.52 L674.49 149.52 L674.95 149.52 L675.40 149.52 L675.86 149.52 L676.31 149.52 L676.76 149.52 L677.22 149.52 L677.67 149.52 L678.13 149.52 L678.58 149.52 L679.03 149.52 L679.49 149.52 L679.94 149.52 L680.40 149.52 L680.85 149.52 L681.30 149.52 L681.76 149.52 L682.21 149.52 L682.67 149.52 L683.12 149.52 L683.57 149.52 L684.03 149.52 L684.48 149.52 L684.94 149.52 L685.39 149.52 L685.84 149.52 L686.30 149.52 L686.75 149.52 L687.21 149.52 L687.66 149.52 L688.11 149.52 L688.57 149.52 L689.02 149.52 L689.48 149.52 L689.93 149.52 L690.38 149.52 L690.84 149.52 L691.29 149.52 L691.75 149.52 L692.20 149.52" fill="none" stroke="#000" stroke-width="0.95" stroke-dasharray="9 3.4" stroke-dashoffset="-0.7"/>
<path d="M419.80 56.92 L420.25 57.18 L420.71 57.45 L421.16 57.71 L421.62 57.97 L422.07 58.24 L422.52 58.50 L422.98 58.76 L423.43 59.02 L423.89 59.28 L424.34 59.54 L424.79 59.80 L425.25 60.06 L425.70 60.32 L426.16 60.58 L426.61 60.84 L427.06 61.10 L427.52 61.36 L427.97 61.61 L428.43 61.87 L428.88 62.13 L429.33 62.38 L429.79 62.64 L430.24 62.89 L430.70 63.15 L431.15 63.40 L431.60 63.65 L432.06 63.91 L432.51 64.16 L432.97 64.41 L433.42 64.67 L433.87 64.92 L434.33 65.17 L434.78 65.42 L435.24 65.67 L435.69 65.92 L436.14 66.17 L436.60 66.42 L437.05 66.67 L437.51 66.92 L437.96 67.17 L438.41 67.41 L438.87 67.66 L439.32 67.91 L439.78 68.15 L440.23 68.40 L440.68 68.65 L441.14 68.89 L441.59 69.14 L442.05 69.38 L442.50 69.63 L442.95 69.87 L443.41 70.11 L443.86 70.36 L444.32 70.60 L444.77 70.84 L445.22 71.08 L445.68 71.32 L446.13 71.57 L446.59 71.81 L447.04 72.05 L447.49 72.29 L447.95 72.53 L448.40 72.77 L448.86 73.00 L449.31 73.24 L449.76 73.48 L450.22 73.72 L450.67 73.96 L451.13 74.19 L451.58 74.43 L452.03 74.67 L452.49 74.90 L452.94 75.14 L453.40 75.37 L453.85 75.61 L454.30 75.84 L454.76 76.07 L455.21 76.31 L455.67 76.54 L456.12 76.77 L456.57 77.01 L457.03 77.24 L457.48 77.47 L457.94 77.70 L458.39 77.93 L458.84 78.16 L459.30 78.39 L459.75 78.62 L460.21 78.85 L460.66 79.08 L461.11 79.31 L461.57 79.54 L462.02 79.76 L462.48 79.99 L462.93 80.22 L463.38 80.45 L463.84 80.67 L464.29 80.90 L464.75 81.12 L465.20 81.35 L465.65 81.57 L466.11 81.80 L466.56 82.02 L467.02 82.25 L467.47 82.47 L467.92 82.69 L468.38 82.92 L468.83 83.14 L469.29 83.36 L469.74 83.58 L470.19 83.80 L470.65 84.03 L471.10 84.25 L471.56 84.47 L472.01 84.69 L472.46 84.91 L472.92 85.13 L473.37 85.34 L473.83 85.56 L474.28 85.78 L474.73 86.00 L475.19 86.22 L475.64 86.43 L476.10 86.65 L476.55 86.87 L477.00 87.08 L477.46 87.30 L477.91 87.51 L478.37 87.73 L478.82 87.94 L479.27 88.16 L479.73 88.37 L480.18 88.59 L480.64 88.80 L481.09 89.01 L481.54 89.22 L482.00 89.44 L482.45 89.65 L482.91 89.86 L483.36 90.07 L483.81 90.28 L484.27 90.49 L484.72 90.70 L485.18 90.91 L485.63 91.12 L486.08 91.33 L486.54 91.54 L486.99 91.75 L487.45 91.96 L487.90 92.17 L488.35 92.37 L488.81 92.58 L489.26 92.79 L489.72 92.99 L490.17 93.20 L490.62 93.41 L491.08 93.61 L491.53 93.82 L491.99 94.02 L492.44 94.23 L492.89 94.43 L493.35 94.64 L493.80 94.84 L494.26 95.04 L494.71 95.25 L495.16 95.45 L495.62 95.65 L496.07 95.85 L496.53 96.05 L496.98 96.25 L497.43 96.46 L497.89 96.66 L498.34 96.86 L498.80 97.06 L499.25 97.26 L499.70 97.46 L500.16 97.66 L500.61 97.85 L501.07 98.05 L501.52 98.25 L501.97 98.45 L502.43 98.65 L502.88 98.84 L503.34 99.04 L503.79 99.24 L504.24 99.43 L504.70 99.63 L505.15 99.82 L505.61 100.02 L506.06 100.21 L506.51 100.41 L506.97 100.60 L507.42 100.80 L507.88 100.99 L508.33 101.18 L508.78 101.38 L509.24 101.57 L509.69 101.76 L510.15 101.95 L510.60 102.15 L511.05 102.34 L511.51 102.53 L511.96 102.72 L512.42 102.91 L512.87 103.10 L513.32 103.29 L513.78 103.48 L514.23 103.67 L514.69 103.86 L515.14 104.05 L515.59 104.24 L516.05 104.42 L516.50 104.61 L516.96 104.80 L517.41 104.99 L517.86 105.17 L518.32 105.36 L518.77 105.55 L519.23 105.73 L519.68 105.92 L520.13 106.10 L520.59 106.29 L521.04 106.47 L521.50 106.66 L521.95 106.84 L522.40 107.03 L522.86 107.21 L523.31 107.39 L523.77 107.58 L524.22 107.76 L524.67 107.94 L525.13 108.12 L525.58 108.31 L526.04 108.49 L526.49 108.67 L526.94 108.85 L527.40 109.03 L527.85 109.21 L528.31 109.39 L528.76 109.57 L529.21 109.75 L529.67 109.93 L530.12 110.11 L530.58 110.29 L531.03 110.47 L531.48 110.64 L531.94 110.82 L532.39 111.00 L532.85 111.18 L533.30 111.35 L533.75 111.53 L534.21 111.71 L534.66 111.88 L535.12 112.06 L535.57 112.24 L536.02 112.41 L536.48 112.59 L536.93 112.76 L537.39 112.93 L537.84 113.11 L538.29 113.28 L538.75 113.46 L539.20 113.63 L539.66 113.80 L540.11 113.98 L540.56 114.15 L541.02 114.32 L541.47 114.49 L541.93 114.66 L542.38 114.84 L542.83 115.01 L543.29 115.18 L543.74 115.35 L544.20 115.52 L544.65 115.69 L545.10 115.86 L545.56 116.03 L546.01 116.20 L546.47 116.37 L546.92 116.53 L547.37 116.70 L547.83 116.87 L548.28 117.04 L548.74 117.21 L549.19 117.37 L549.64 117.54 L550.10 117.71 L550.55 117.87 L551.01 118.04 L551.46 118.21 L551.91 118.37 L552.37 118.54 L552.82 118.70 L553.28 118.87 L553.73 119.03 L554.18 119.20 L554.64 119.36 L555.09 119.52 L555.55 119.69 L556.00 119.85 L556.45 120.01 L556.91 120.18 L557.36 120.34 L557.82 120.50 L558.27 120.66 L558.72 120.82 L559.18 120.99 L559.63 121.15 L560.09 121.31 L560.54 121.47 L560.99 121.63 L561.45 121.79 L561.90 121.95 L562.36 122.11 L562.81 122.27 L563.26 122.43 L563.72 122.59 L564.17 122.75 L564.63 122.90 L565.08 123.06 L565.53 123.22 L565.99 123.38 L566.44 123.53 L566.90 123.69 L567.35 123.85 L567.80 124.01 L568.26 124.16 L568.71 124.32 L569.17 124.47 L569.62 124.63 L570.07 124.78 L570.53 124.94 L570.98 125.09 L571.44 125.25 L571.89 125.40 L572.34 125.56 L572.80 125.71 L573.25 125.87 L573.71 126.02 L574.16 126.17 L574.61 126.32 L575.07 126.48 L575.52 126.63 L575.98 126.78 L576.43 126.93 L576.88 127.09 L577.34 127.24 L577.79 127.39 L578.25 127.54 L578.70 127.69 L579.15 127.84 L579.61 127.99 L580.06 128.14 L580.52 128.29 L580.97 128.44 L581.42 128.59 L581.88 128.74 L582.33 128.89 L582.79 129.03 L583.24 129.18 L583.69 129.33 L584.15 129.48 L584.60 129.63 L585.06 129.77 L585.51 129.92 L585.96 130.07 L586.42 130.21 L586.87 130.36 L587.33 130.51 L587.78 130.65 L588.23 130.80 L588.69 130.94 L589.14 131.09 L589.60 131.23 L590.05 131.38 L590.50 131.52 L590.96 131.67 L591.41 131.81 L591.87 131.96 L592.32 132.10 L592.77 132.24 L593.23 132.39 L593.68 132.53 L594.14 132.67 L594.59 132.81 L595.04 132.96 L595.50 133.10 L595.95 133.24 L596.41 133.38 L596.86 133.52 L597.31 133.66 L597.77 133.80 L598.22 133.94 L598.68 134.08 L599.13 134.22 L599.58 134.36 L600.04 134.50 L600.49 134.64 L600.95 134.78 L601.40 134.92 L601.85 135.06 L602.31 135.20 L602.76 135.34 L603.22 135.48 L603.67 135.61 L604.12 135.75 L604.58 135.89 L605.03 136.03 L605.49 136.16 L605.94 136.30 L606.39 136.44 L606.85 136.57 L607.30 136.71 L607.76 136.84 L608.21 136.98 L608.66 137.12 L609.12 137.25 L609.57 137.39 L610.03 137.52 L610.48 137.66 L610.93 137.79 L611.39 137.92 L611.84 138.06 L612.30 138.19 L612.75 138.33 L613.20 138.46 L613.66 138.59 L614.11 138.73 L614.57 138.86 L615.02 138.99 L615.47 139.12 L615.93 139.25 L616.38 139.39 L616.84 139.52 L617.29 139.65 L617.74 139.78 L618.20 139.91 L618.65 140.04 L619.11 140.17 L619.56 140.30 L620.01 140.43 L620.47 140.56 L620.92 140.69 L621.38 140.82 L621.83 140.95 L622.28 141.08 L622.74 141.21 L623.19 141.34 L623.65 141.47 L624.10 141.60 L624.55 141.72 L625.01 141.85 L625.46 141.98 L625.92 142.11 L626.37 142.23 L626.82 142.36 L627.28 142.49 L627.73 142.61 L628.19 142.74 L628.64 142.87 L629.09 142.99 L629.55 143.12 L630.00 143.24 L630.46 143.37 L630.91 143.49 L631.36 143.62 L631.82 143.74 L632.27 143.87 L632.73 143.99 L633.18 144.12 L633.63 144.24 L634.09 144.37 L634.54 144.49 L635.00 144.61 L635.45 144.74 L635.90 144.86 L636.36 144.98 L636.81 145.10 L637.27 145.23 L637.72 145.35 L638.17 145.47 L638.63 145.59 L639.08 145.71 L639.54 145.84 L639.99 145.96 L640.44 146.08 L640.90 146.20 L641.35 146.32 L641.81 146.44 L642.26 146.56 L642.71 146.68 L643.17 146.80 L643.62 146.92 L644.08 147.04 L644.53 147.16 L644.98 147.28 L645.44 147.40 L645.89 147.52 L646.35 147.63 L646.80 147.75 L647.25 147.87 L647.71 147.99 L648.16 148.11 L648.62 148.22 L649.07 148.34 L649.52 148.46 L649.98 148.58 L650.43 148.69 L650.89 148.81 L651.34 148.93 L651.79 149.04 L652.25 149.16 L652.70 149.27 L653.16 149.39 L653.61 149.50 L654.06 149.62 L654.52 149.74 L654.97 149.85 L655.43 149.97 L655.88 150.08 L656.33 150.19 L656.79 150.31 L657.24 150.42 L657.70 150.54 L658.15 150.65 L658.60 150.76 L659.06 150.88 L659.51 150.99 L659.97 151.10 L660.42 151.22 L660.87 151.33 L661.33 151.44 L661.78 151.55 L662.24 151.66 L662.69 151.78 L663.14 151.89 L663.60 152.00 L664.05 152.11 L664.51 152.22 L664.96 152.33 L665.41 152.44 L665.87 152.55 L666.32 152.67 L666.78 152.78 L667.23 152.89 L667.68 153.00 L668.14 153.10 L668.59 153.21 L669.05 153.32 L669.50 153.43 L669.95 153.54 L670.41 153.65 L670.86 153.76 L671.32 153.87 L671.77 153.98 L672.22 154.08 L672.68 154.19 L673.13 154.30 L673.59 154.41 L674.04 154.52 L674.49 154.62 L674.95 154.73 L675.40 154.84 L675.86 154.94 L676.31 155.05 L676.76 155.16 L677.22 155.26 L677.67 155.37 L678.13 155.47 L678.58 155.58 L679.03 155.69 L679.49 155.79 L679.94 155.90 L680.40 156.00 L680.85 156.11 L681.30 156.21 L681.76 156.32 L682.21 156.42 L682.67 156.52 L683.12 156.63 L683.57 156.73 L684.03 156.84 L684.48 156.94 L684.94 157.04 L685.39 157.15 L685.84 157.25 L686.30 157.35 L686.75 157.45 L687.21 157.56 L687.66 157.66 L688.11 157.76 L688.57 157.86 L689.02 157.97 L689.48 158.07 L689.93 158.17 L690.38 158.27 L690.84 158.37 L691.29 158.47 L691.75 158.57 L692.20 158.67" fill="none" stroke="#000" stroke-width="0.9" stroke-dasharray="11.1 2.25 1.15 2.25 1.15 2.2" stroke-dashoffset="0"/>
<path d="M419.80 26.00V221.20H692.20" fill="none" stroke="#000" stroke-width="1"/>
<path d="M416.80 221.20H419.80" stroke="#000" stroke-width="1"/>
<text x="409.80" y="226.40" font-size="12.9" text-anchor="end">0</text>
<path d="M416.80 182.16H419.80" stroke="#000" stroke-width="1"/>
<text x="409.80" y="187.36" font-size="12.9" text-anchor="end">5</text>
<path d="M416.80 143.12H419.80" stroke="#000" stroke-width="1"/>
<text x="409.80" y="148.32" font-size="12.9" text-anchor="end">10</text>
<path d="M416.80 104.08H419.80" stroke="#000" stroke-width="1"/>
<text x="409.80" y="109.28" font-size="12.9" text-anchor="end">15</text>
<path d="M416.80 65.04H419.80" stroke="#000" stroke-width="1"/>
<text x="409.80" y="70.24" font-size="12.9" text-anchor="end">20</text>
<path d="M416.80 26.00H419.80" stroke="#000" stroke-width="1"/>
<text x="409.80" y="31.20" font-size="12.9" text-anchor="end">25</text>
<path d="M419.80 221.20V223.70" stroke="#000" stroke-width="1"/>
<text x="419.80" y="243.60" font-size="12.9" text-anchor="middle">0</text>
<path d="M454.30 221.20V223.70" stroke="#000" stroke-width="1"/>
<text x="454.30" y="243.60" font-size="12.9" text-anchor="middle">38</text>
<path d="M487.90 221.20V223.70" stroke="#000" stroke-width="1"/>
<text x="487.90" y="243.60" font-size="12.9" text-anchor="middle">75</text>
<path d="M556.00 221.20V223.70" stroke="#000" stroke-width="1"/>
<text x="556.00" y="243.60" font-size="12.9" text-anchor="middle">150</text>
<path d="M692.20 221.20V223.70" stroke="#000" stroke-width="1"/>
<text x="692.20" y="243.60" font-size="12.9" text-anchor="middle">300</text>
<circle cx="419.80" cy="53.33" r="2.75" fill="#000"/>
<circle cx="454.30" cy="77.14" r="2.75" fill="#000"/>
<circle cx="487.90" cy="79.09" r="2.75" fill="#000"/>
<circle cx="556.00" cy="93.15" r="2.75" fill="#000"/>
<circle cx="692.20" cy="135.78" r="2.75" fill="#000"/>
<circle cx="419.80" cy="53.33" r="2.2" fill="#fff" stroke="#000" stroke-width="1.1"/>
<circle cx="454.30" cy="152.65" r="2.2" fill="#fff" stroke="#000" stroke-width="1.1"/>
<circle cx="487.90" cy="157.80" r="2.2" fill="#fff" stroke="#000" stroke-width="1.1"/>
<circle cx="556.00" cy="125.16" r="2.2" fill="#fff" stroke="#000" stroke-width="1.1"/>
<circle cx="692.20" cy="140.39" r="2.2" fill="#fff" stroke="#000" stroke-width="1.1"/>
<path d="M416.80 51.58H422.80L419.80 56.83Z" fill="#000"/>
<path d="M451.30 160.58H457.30L454.30 165.83Z" fill="#000"/>
<path d="M484.90 120.60H490.90L487.90 125.85Z" fill="#000"/>
<path d="M553.00 157.84H559.00L556.00 163.09Z" fill="#000"/>
<path d="M689.20 151.99H695.20L692.20 157.24Z" fill="#000"/>
<path d="M417.55 54.92H422.05L419.80 51.02Z" fill="#fff" stroke="#000" stroke-width="0.9"/>
<path d="M452.05 79.51H456.55L454.30 75.61Z" fill="#fff" stroke="#000" stroke-width="0.9"/>
<path d="M485.65 96.69H490.15L487.90 92.79Z" fill="#fff" stroke="#000" stroke-width="0.9"/>
<path d="M553.75 120.90H558.25L556.00 117.00Z" fill="#fff" stroke="#000" stroke-width="0.9"/>
<path d="M689.95 158.84H694.45L692.20 154.94Z" fill="#fff" stroke="#000" stroke-width="0.9"/>
<text x="401.0" y="8.2" font-size="12" font-weight="bold">b</text>
<text transform="translate(378.7 122.6) rotate(-90)" font-size="13.4" text-anchor="middle">Chrolophyll a (&#181;g mL<tspan font-size="9.2" dy="-6">-1</tspan><tspan dy="6">)</tspan></text>
<text x="556.00" y="271.2" font-size="13.33" text-anchor="middle">Extract concentration (g L<tspan font-size="9.2" dy="-6">-1</tspan><tspan dy="6">)</tspan></text>
<path d="M374.50 300.00H414.00" stroke="#000" stroke-width="0.9"/>
<circle cx="390.25" cy="300.50" r="2.75" fill="#000"/>
<text x="424" y="305.30" font-size="13.17">DL=21.09*exp(-0.0021*x) R<tspan font-size="9.2" dy="-6">2</tspan><tspan dy="6">=0.96</tspan></text>
<path d="M374.50 317.50H414.00" stroke="#000" stroke-width="0.8" stroke-dasharray="1 2.75"/>
<circle cx="390.25" cy="318.20" r="2.2" fill="#fff" stroke="#000" stroke-width="1.1"/>
<text x="424" y="322.90" font-size="13.17">RC=9.87+12.01/(1+exp(-(x-5.01)/-1.47)) R<tspan font-size="9.2" dy="-6">2</tspan><tspan dy="6">=0.91</tspan></text>
<path d="M374.50 335.30H414.00" stroke="#000" stroke-width="0.95" stroke-dasharray="9 3.4"/>
<path d="M387.25 334.20H393.25L390.25 339.45Z" fill="#000"/>
<text x="424" y="340.50" font-size="13.17">PT=9.18+13.22/(1+exp(-(x-4.10)/-1.56)) R<tspan font-size="9.2" dy="-6">2</tspan><tspan dy="6">=0.88</tspan></text>
<path d="M374.50 352.60H414.00" stroke="#000" stroke-width="0.9" stroke-dasharray="12.5 2.5 1.3 2.5 1.3 2.4"/>
<path d="M388.00 354.60H392.50L390.25 350.70Z" fill="#fff" stroke="#000" stroke-width="0.9"/>
<text x="424" y="358.00" font-size="13.17">JG = 21.04*exp(-0.0032*x) R<tspan font-size="9.2" dy="-6">2</tspan><tspan dy="6">=0.99</tspan></text>
</svg>
</body></html>
